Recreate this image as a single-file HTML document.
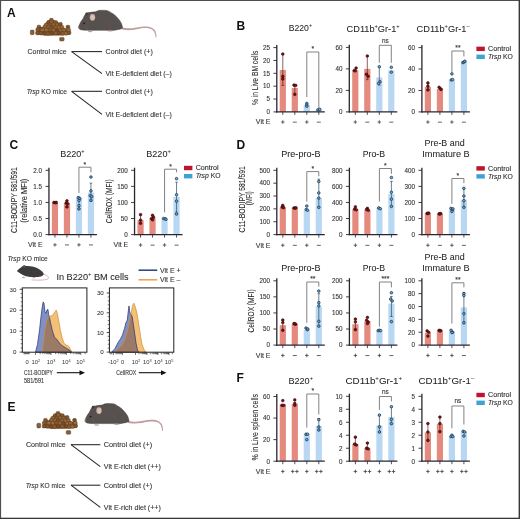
<!DOCTYPE html>
<html><head><meta charset="utf-8"><title>Figure</title>
<style>html,body{margin:0;padding:0;background:#fff;} svg{display:block;will-change:transform;} text{font-family:"Liberation Sans", sans-serif;}</style>
</head><body>
<svg width="520" height="519" viewBox="0 0 520 519" font-family="'Liberation Sans', sans-serif"><rect x="0" y="0" width="520" height="519" fill="#fff"/>
<text x="7.10" y="16.90" font-size="12" fill="#111" font-weight="bold">A</text>
<g transform="translate(0 0)"><path d="M36.5,33 C37,29 38.5,27.2 40.3,26.8 C41.5,27 42.3,27.4 43.5,26 C45,23.5 47.5,20.5 50.9,19.6 C54,19.6 57.5,21.5 60,24 C61.5,25.8 63,27.6 65,28.6 C67.5,28.4 70,29.4 70.3,32 L70,34.6 C60,36 45,35.8 36.8,34.6 Z" fill="#7d532c"/><rect x="49.55" y="18.29" width="3.7" height="3.5" rx="1.1" fill="#8a5d33" stroke="#5a3a1c" stroke-width="0.45"/><rect x="46.90" y="20.49" width="3.7" height="3.5" rx="1.1" fill="#7e532c" stroke="#5a3a1c" stroke-width="0.45"/><rect x="49.87" y="20.22" width="3.7" height="3.5" rx="1.1" fill="#916336" stroke="#5a3a1c" stroke-width="0.45"/><rect x="53.87" y="20.65" width="3.7" height="3.5" rx="1.1" fill="#85592f" stroke="#5a3a1c" stroke-width="0.45"/><rect x="44.35" y="23.22" width="3.7" height="3.5" rx="1.1" fill="#9a6c40" stroke="#5a3a1c" stroke-width="0.45"/><rect x="47.99" y="22.92" width="3.7" height="3.5" rx="1.1" fill="#85592f" stroke="#5a3a1c" stroke-width="0.45"/><rect x="51.73" y="22.76" width="3.7" height="3.5" rx="1.1" fill="#916336" stroke="#5a3a1c" stroke-width="0.45"/><rect x="55.48" y="23.12" width="3.7" height="3.5" rx="1.1" fill="#916336" stroke="#5a3a1c" stroke-width="0.45"/><rect x="58.56" y="22.42" width="3.7" height="3.5" rx="1.1" fill="#7e532c" stroke="#5a3a1c" stroke-width="0.45"/><rect x="37.04" y="25.18" width="3.7" height="3.5" rx="1.1" fill="#85592f" stroke="#5a3a1c" stroke-width="0.45"/><rect x="43.13" y="25.06" width="3.7" height="3.5" rx="1.1" fill="#916336" stroke="#5a3a1c" stroke-width="0.45"/><rect x="46.62" y="25.22" width="3.7" height="3.5" rx="1.1" fill="#916336" stroke="#5a3a1c" stroke-width="0.45"/><rect x="49.68" y="26.01" width="3.7" height="3.5" rx="1.1" fill="#7e532c" stroke="#5a3a1c" stroke-width="0.45"/><rect x="53.75" y="25.68" width="3.7" height="3.5" rx="1.1" fill="#916336" stroke="#5a3a1c" stroke-width="0.45"/><rect x="57.30" y="25.74" width="3.7" height="3.5" rx="1.1" fill="#9a6c40" stroke="#5a3a1c" stroke-width="0.45"/><rect x="59.99" y="25.41" width="3.7" height="3.5" rx="1.1" fill="#916336" stroke="#5a3a1c" stroke-width="0.45"/><rect x="66.10" y="25.31" width="3.7" height="3.5" rx="1.1" fill="#744c28" stroke="#5a3a1c" stroke-width="0.45"/><rect x="38.79" y="27.95" width="3.7" height="3.5" rx="1.1" fill="#85592f" stroke="#5a3a1c" stroke-width="0.45"/><rect x="35.83" y="28.06" width="3.7" height="3.5" rx="1.1" fill="#85592f" stroke="#5a3a1c" stroke-width="0.45"/><rect x="40.50" y="28.17" width="3.7" height="3.5" rx="1.1" fill="#9a6c40" stroke="#5a3a1c" stroke-width="0.45"/><rect x="44.51" y="28.23" width="3.7" height="3.5" rx="1.1" fill="#9a6c40" stroke="#5a3a1c" stroke-width="0.45"/><rect x="48.11" y="28.11" width="3.7" height="3.5" rx="1.1" fill="#85592f" stroke="#5a3a1c" stroke-width="0.45"/><rect x="51.91" y="28.41" width="3.7" height="3.5" rx="1.1" fill="#9a6c40" stroke="#5a3a1c" stroke-width="0.45"/><rect x="54.76" y="28.84" width="3.7" height="3.5" rx="1.1" fill="#744c28" stroke="#5a3a1c" stroke-width="0.45"/><rect x="58.65" y="28.89" width="3.7" height="3.5" rx="1.1" fill="#9a6c40" stroke="#5a3a1c" stroke-width="0.45"/><rect x="61.99" y="28.23" width="3.7" height="3.5" rx="1.1" fill="#916336" stroke="#5a3a1c" stroke-width="0.45"/><rect x="66.85" y="28.30" width="3.7" height="3.5" rx="1.1" fill="#9a6c40" stroke="#5a3a1c" stroke-width="0.45"/><rect x="35.63" y="31.30" width="3.7" height="3.5" rx="1.1" fill="#7e532c" stroke="#5a3a1c" stroke-width="0.45"/><rect x="39.15" y="31.41" width="3.7" height="3.5" rx="1.1" fill="#7e532c" stroke="#5a3a1c" stroke-width="0.45"/><rect x="43.15" y="31.75" width="3.7" height="3.5" rx="1.1" fill="#744c28" stroke="#5a3a1c" stroke-width="0.45"/><rect x="46.18" y="31.90" width="3.7" height="3.5" rx="1.1" fill="#85592f" stroke="#5a3a1c" stroke-width="0.45"/><rect x="49.92" y="31.46" width="3.7" height="3.5" rx="1.1" fill="#744c28" stroke="#5a3a1c" stroke-width="0.45"/><rect x="54.08" y="31.29" width="3.7" height="3.5" rx="1.1" fill="#8a5d33" stroke="#5a3a1c" stroke-width="0.45"/><rect x="57.39" y="31.26" width="3.7" height="3.5" rx="1.1" fill="#744c28" stroke="#5a3a1c" stroke-width="0.45"/><rect x="60.79" y="31.75" width="3.7" height="3.5" rx="1.1" fill="#8a5d33" stroke="#5a3a1c" stroke-width="0.45"/><rect x="64.27" y="31.64" width="3.7" height="3.5" rx="1.1" fill="#9a6c40" stroke="#5a3a1c" stroke-width="0.45"/><rect x="67.18" y="31.00" width="3.7" height="3.5" rx="1.1" fill="#7e532c" stroke="#5a3a1c" stroke-width="0.45"/><rect x="30.3" y="30.1" width="3.8" height="4.6" rx="1" fill="#86603a" stroke="#5a3a1c" stroke-width="0.45"/><rect x="59.6" y="37.4" width="4.5" height="3.6" rx="1" fill="#86603a" stroke="#5a3a1c" stroke-width="0.45"/></g>
<g>
<path d="M121.5,27.6 C127,28.6 130,28.4 132.1,28.2 C136,27.8 140,26.6 144.2,26.5 C147.5,26.4 150,26.8 151.6,27.7 C153.6,28.8 155,30.1 155.6,31.5 C156.3,33.5 156.6,35.5 156.4,37.6 L155.6,37.6 C155.5,35.5 155.1,33.6 154.3,31.9 C153.6,30.5 152.4,29.5 150.8,28.9 C149,28.2 147,28 144.3,28.1 C140.2,28.3 136.3,29.6 132.3,30 C129.5,30.3 126,30.2 121.5,29.6 Z" fill="#c29c9e"/>
<path d="M78.3,27.6 C79,25.5 79.8,23.6 80.6,22.2 C81.4,20.8 82.2,19.8 82.9,19 C83.8,17 84.7,15 85.8,13.8 C87,12.9 88,12.6 89,12.6 C91,12.4 93.5,11.9 95.6,11.8 C97,11 98.5,10.4 100.2,10.3 L106,10.4 C108,10.5 110,11.8 111.5,12.9 C113.5,14 115,15 116.2,16.4 C117.8,18 118.8,19.2 119.6,20.4 C120.8,22 121.6,23.6 121.9,25 C122.3,26 122.5,27 122.5,27.9 C121,29 119,29.4 117.3,29.7 C115.5,30.1 113.5,30.5 111.5,30.5 L105.8,30.3 L100,30.3 L87.5,30.3 C85,30.2 82.5,30 80.6,29.7 C79.5,29.3 78.7,28.6 78.3,27.6 Z" fill="#56514f" stroke="#403b3a" stroke-width="0.5"/>
<path d="M110,13 C115,15 119,19.5 121.2,24.5 C121,27.5 118,29.5 113,30 C116,26 115,19 110,13 Z" fill="#575252" opacity="0.8"/>
<ellipse cx="86.6" cy="13.9" rx="1.3" ry="1.4" fill="#403d3d"/>
<path d="M85.5,25.5 C86.8,27.5 87.8,29.5 88.6,31.3" stroke="#6d6363" stroke-width="0.5" fill="none"/>
<path d="M103.5,20.5 C107.5,21.5 110.5,25.5 110.8,30.2" stroke="#645b5b" stroke-width="0.5" fill="none"/>
<ellipse cx="92.5" cy="17.3" rx="2.7" ry="3.4" fill="#cdb2aa"/>
<ellipse cx="92.8" cy="17.6" rx="1.6" ry="2.3" fill="#d9c1b9"/>
<circle cx="84.1" cy="23.3" r="0.85" fill="#151515"/>
<ellipse cx="90.2" cy="31.6" rx="2.3" ry="0.75" fill="#b9a5a5"/>
<ellipse cx="110.1" cy="30.8" rx="2.8" ry="0.7" fill="#b08d8d"/>
<ellipse cx="78.7" cy="27.6" rx="0.6" ry="0.6" fill="#bfa0a0"/>
</g>
<text x="27.60" y="54.10" font-size="7.1" fill="#333" stroke="#333" stroke-width="0.1" textLength="39.00" lengthAdjust="spacingAndGlyphs">Control mice</text>
<line x1="71.60" y1="51.60" x2="102.00" y2="51.60" stroke="#222" stroke-width="1.05"/>
<line x1="71.60" y1="51.60" x2="102.00" y2="73.60" stroke="#222" stroke-width="1.05"/>
<text x="105.60" y="54.10" font-size="7.1" fill="#333" stroke="#333" stroke-width="0.1" textLength="47.20" lengthAdjust="spacingAndGlyphs">Control diet (+)</text>
<text x="105.60" y="76.10" font-size="7.1" fill="#333" stroke="#333" stroke-width="0.1" textLength="66.20" lengthAdjust="spacingAndGlyphs">Vit E-deficient diet (–)</text>
<text x="26.7" y="93.80" font-size="7.1" fill="#333" stroke="#333" stroke-width="0.1" textLength="40.2" lengthAdjust="spacingAndGlyphs"><tspan font-style="italic">Trsp</tspan> KO mice</text>
<line x1="71.60" y1="91.30" x2="102.00" y2="91.30" stroke="#222" stroke-width="1.05"/>
<line x1="71.60" y1="91.30" x2="102.00" y2="114.30" stroke="#222" stroke-width="1.05"/>
<text x="105.60" y="93.80" font-size="7.1" fill="#333" stroke="#333" stroke-width="0.1" textLength="47.20" lengthAdjust="spacingAndGlyphs">Control diet (+)</text>
<text x="105.60" y="116.80" font-size="7.1" fill="#333" stroke="#333" stroke-width="0.1" textLength="66.20" lengthAdjust="spacingAndGlyphs">Vit E-deficient diet (–)</text>
<text x="236.40" y="29.60" font-size="12" fill="#111" font-weight="bold">B</text>
<text x="288.80" y="31.30" font-size="8.7" fill="#231f20" stroke="#231f20" stroke-width="0.06" textLength="23.20" lengthAdjust="spacingAndGlyphs"><tspan>B220</tspan><tspan font-size="5.39" dy="-4.00">+</tspan></text>
<text x="346.60" y="31.60" font-size="8.7" fill="#231f20" stroke="#231f20" stroke-width="0.06" textLength="53.00" lengthAdjust="spacingAndGlyphs"><tspan>CD11b</tspan><tspan font-size="5.39" dy="-4.00">+</tspan><tspan dy="4.00">Gr-1</tspan><tspan font-size="5.39" dy="-4.00">+</tspan></text>
<text x="416.60" y="31.60" font-size="8.7" fill="#231f20" stroke="#231f20" stroke-width="0.06" textLength="53.00" lengthAdjust="spacingAndGlyphs"><tspan>CD11b</tspan><tspan font-size="5.39" dy="-4.00">+</tspan><tspan dy="4.00">Gr-1</tspan><tspan font-size="5.39" dy="-4.00">–</tspan></text>
<text x="257.80" y="77.90" font-size="8.8" fill="#2a2a2a" stroke="#2a2a2a" stroke-width="0.1" text-anchor="middle" textLength="54.30" lengthAdjust="spacingAndGlyphs" transform="rotate(-90 257.80 77.90)">% in Live BM cells</text>
<rect x="279.70" y="69.98" width="6.20" height="41.92" fill="#e48a7e"/>
<rect x="291.70" y="87.98" width="6.20" height="23.92" fill="#e48a7e"/>
<rect x="303.70" y="104.96" width="6.20" height="6.94" fill="#b8d7f2"/>
<rect x="315.70" y="109.71" width="6.20" height="2.19" fill="#b8d7f2"/>
<line x1="282.80" y1="54.03" x2="282.80" y2="85.41" stroke="#5a2020" stroke-width="0.7"/>
<line x1="281.50" y1="54.03" x2="284.10" y2="54.03" stroke="#5a2020" stroke-width="0.7"/>
<line x1="281.50" y1="85.41" x2="284.10" y2="85.41" stroke="#5a2020" stroke-width="0.7"/>
<line x1="294.80" y1="84.89" x2="294.80" y2="93.90" stroke="#5a2020" stroke-width="0.7"/>
<line x1="293.50" y1="84.89" x2="296.10" y2="84.89" stroke="#5a2020" stroke-width="0.7"/>
<line x1="293.50" y1="93.90" x2="296.10" y2="93.90" stroke="#5a2020" stroke-width="0.7"/>
<circle cx="282.80" cy="54.03" r="1.35" fill="#7a1518" stroke="#2a0506" stroke-width="0.55"/>
<circle cx="282.80" cy="76.41" r="1.35" fill="#7a1518" stroke="#2a0506" stroke-width="0.55"/>
<circle cx="282.80" cy="78.98" r="1.35" fill="#7a1518" stroke="#2a0506" stroke-width="0.55"/>
<circle cx="294.00" cy="85.15" r="1.35" fill="#7a1518" stroke="#2a0506" stroke-width="0.55"/>
<circle cx="295.70" cy="85.41" r="1.35" fill="#7a1518" stroke="#2a0506" stroke-width="0.55"/>
<circle cx="294.80" cy="94.41" r="1.35" fill="#7a1518" stroke="#2a0506" stroke-width="0.55"/>
<circle cx="306.80" cy="103.41" r="1.3" fill="#6fa6d2" stroke="#17344b" stroke-width="0.75"/>
<circle cx="306.80" cy="104.96" r="1.3" fill="#6fa6d2" stroke="#17344b" stroke-width="0.75"/>
<circle cx="306.80" cy="106.24" r="1.3" fill="#6fa6d2" stroke="#17344b" stroke-width="0.75"/>
<circle cx="317.90" cy="109.84" r="1.3" fill="#6fa6d2" stroke="#17344b" stroke-width="0.75"/>
<circle cx="319.70" cy="109.33" r="1.3" fill="#6fa6d2" stroke="#17344b" stroke-width="0.75"/>
<line x1="276.80" y1="112.50" x2="276.80" y2="45.00" stroke="#2b2530" stroke-width="1.3"/>
<line x1="276.20" y1="111.90" x2="324.80" y2="111.90" stroke="#2b2530" stroke-width="1.3"/>
<line x1="273.40" y1="111.90" x2="276.80" y2="111.90" stroke="#2b2530" stroke-width="0.9"/>
<text x="269.90" y="114.20" font-size="6.3" fill="#333" stroke="#333" stroke-width="0.1" text-anchor="end">0</text>
<line x1="273.40" y1="99.04" x2="276.80" y2="99.04" stroke="#2b2530" stroke-width="0.9"/>
<text x="269.90" y="101.34" font-size="6.3" fill="#333" stroke="#333" stroke-width="0.1" text-anchor="end">5</text>
<line x1="273.40" y1="86.18" x2="276.80" y2="86.18" stroke="#2b2530" stroke-width="0.9"/>
<text x="269.90" y="88.48" font-size="6.3" fill="#333" stroke="#333" stroke-width="0.1" text-anchor="end">10</text>
<line x1="273.40" y1="73.32" x2="276.80" y2="73.32" stroke="#2b2530" stroke-width="0.9"/>
<text x="269.90" y="75.62" font-size="6.3" fill="#333" stroke="#333" stroke-width="0.1" text-anchor="end">15</text>
<line x1="273.40" y1="60.46" x2="276.80" y2="60.46" stroke="#2b2530" stroke-width="0.9"/>
<text x="269.90" y="62.76" font-size="6.3" fill="#333" stroke="#333" stroke-width="0.1" text-anchor="end">20</text>
<line x1="273.40" y1="47.60" x2="276.80" y2="47.60" stroke="#2b2530" stroke-width="0.9"/>
<text x="269.90" y="49.90" font-size="6.3" fill="#333" stroke="#333" stroke-width="0.1" text-anchor="end">25</text>
<line x1="282.80" y1="111.90" x2="282.80" y2="114.90" stroke="#2b2530" stroke-width="0.8"/>
<line x1="294.80" y1="111.90" x2="294.80" y2="114.90" stroke="#2b2530" stroke-width="0.8"/>
<line x1="306.80" y1="111.90" x2="306.80" y2="114.90" stroke="#2b2530" stroke-width="0.8"/>
<line x1="318.80" y1="111.90" x2="318.80" y2="114.90" stroke="#2b2530" stroke-width="0.8"/>
<polyline points="306.80,97.00 306.80,52.00 318.80,52.00 318.80,108.40" fill="none" stroke="#7c7c7c" stroke-width="0.95"/>
<text x="312.80" y="51.40" font-size="6.8" fill="#333" stroke="#333" stroke-width="0.1" text-anchor="middle">*</text>
<line x1="281.05" y1="122.05" x2="284.55" y2="122.05" stroke="#3c3c3c" stroke-width="0.8"/>
<line x1="282.80" y1="120.25" x2="282.80" y2="123.85" stroke="#3c3c3c" stroke-width="0.8"/>
<line x1="292.80" y1="122.15" x2="296.80" y2="122.15" stroke="#3c3c3c" stroke-width="0.8"/>
<line x1="305.05" y1="122.05" x2="308.55" y2="122.05" stroke="#3c3c3c" stroke-width="0.8"/>
<line x1="306.80" y1="120.25" x2="306.80" y2="123.85" stroke="#3c3c3c" stroke-width="0.8"/>
<line x1="316.80" y1="122.15" x2="320.80" y2="122.15" stroke="#3c3c3c" stroke-width="0.8"/>
<text x="270.50" y="124.30" font-size="7.0" fill="#333" stroke="#333" stroke-width="0.1" text-anchor="end">Vit E</text>
<rect x="352.20" y="70.30" width="6.20" height="41.60" fill="#e48a7e"/>
<rect x="364.20" y="68.90" width="6.20" height="43.00" fill="#e48a7e"/>
<rect x="376.20" y="77.50" width="6.20" height="34.40" fill="#b8d7f2"/>
<rect x="388.20" y="70.51" width="6.20" height="41.39" fill="#b8d7f2"/>
<line x1="367.30" y1="56.00" x2="367.30" y2="79.65" stroke="#5a2020" stroke-width="0.7"/>
<line x1="366.00" y1="56.00" x2="368.60" y2="56.00" stroke="#5a2020" stroke-width="0.7"/>
<line x1="366.00" y1="79.65" x2="368.60" y2="79.65" stroke="#5a2020" stroke-width="0.7"/>
<line x1="379.30" y1="66.75" x2="379.30" y2="85.03" stroke="#2a4a62" stroke-width="0.7"/>
<line x1="378.00" y1="66.75" x2="380.60" y2="66.75" stroke="#2a4a62" stroke-width="0.7"/>
<line x1="378.00" y1="85.03" x2="380.60" y2="85.03" stroke="#2a4a62" stroke-width="0.7"/>
<circle cx="354.30" cy="70.51" r="1.35" fill="#7a1518" stroke="#2a0506" stroke-width="0.55"/>
<circle cx="356.10" cy="68.04" r="1.35" fill="#7a1518" stroke="#2a0506" stroke-width="0.55"/>
<circle cx="355.30" cy="70.84" r="1.35" fill="#7a1518" stroke="#2a0506" stroke-width="0.55"/>
<circle cx="367.30" cy="56.00" r="1.35" fill="#7a1518" stroke="#2a0506" stroke-width="0.55"/>
<circle cx="366.40" cy="74.28" r="1.35" fill="#7a1518" stroke="#2a0506" stroke-width="0.55"/>
<circle cx="368.20" cy="76.43" r="1.35" fill="#7a1518" stroke="#2a0506" stroke-width="0.55"/>
<circle cx="379.30" cy="66.75" r="1.3" fill="#6fa6d2" stroke="#17344b" stroke-width="0.75"/>
<circle cx="380.00" cy="81.80" r="1.3" fill="#6fa6d2" stroke="#17344b" stroke-width="0.75"/>
<circle cx="378.60" cy="83.41" r="1.3" fill="#6fa6d2" stroke="#17344b" stroke-width="0.75"/>
<circle cx="391.30" cy="67.29" r="1.3" fill="#6fa6d2" stroke="#17344b" stroke-width="0.75"/>
<circle cx="391.30" cy="72.12" r="1.3" fill="#6fa6d2" stroke="#17344b" stroke-width="0.75"/>
<line x1="349.30" y1="112.50" x2="349.30" y2="44.80" stroke="#2b2530" stroke-width="1.3"/>
<line x1="348.70" y1="111.90" x2="397.30" y2="111.90" stroke="#2b2530" stroke-width="1.3"/>
<line x1="345.90" y1="111.90" x2="349.30" y2="111.90" stroke="#2b2530" stroke-width="0.9"/>
<text x="342.40" y="114.20" font-size="6.3" fill="#333" stroke="#333" stroke-width="0.1" text-anchor="end">0</text>
<line x1="345.90" y1="90.40" x2="349.30" y2="90.40" stroke="#2b2530" stroke-width="0.9"/>
<text x="342.40" y="92.70" font-size="6.3" fill="#333" stroke="#333" stroke-width="0.1" text-anchor="end">20</text>
<line x1="345.90" y1="68.90" x2="349.30" y2="68.90" stroke="#2b2530" stroke-width="0.9"/>
<text x="342.40" y="71.20" font-size="6.3" fill="#333" stroke="#333" stroke-width="0.1" text-anchor="end">40</text>
<line x1="345.90" y1="47.40" x2="349.30" y2="47.40" stroke="#2b2530" stroke-width="0.9"/>
<text x="342.40" y="49.70" font-size="6.3" fill="#333" stroke="#333" stroke-width="0.1" text-anchor="end">60</text>
<line x1="355.30" y1="111.90" x2="355.30" y2="114.90" stroke="#2b2530" stroke-width="0.8"/>
<line x1="367.30" y1="111.90" x2="367.30" y2="114.90" stroke="#2b2530" stroke-width="0.8"/>
<line x1="379.30" y1="111.90" x2="379.30" y2="114.90" stroke="#2b2530" stroke-width="0.8"/>
<line x1="391.30" y1="111.90" x2="391.30" y2="114.90" stroke="#2b2530" stroke-width="0.8"/>
<polyline points="379.30,62.70 379.30,45.30 391.30,45.30 391.30,62.70" fill="none" stroke="#7c7c7c" stroke-width="0.95"/>
<text x="385.30" y="42.70" font-size="6.4" fill="#333" stroke="#333" stroke-width="0.1" text-anchor="middle">ns</text>
<line x1="353.55" y1="122.05" x2="357.05" y2="122.05" stroke="#3c3c3c" stroke-width="0.8"/>
<line x1="355.30" y1="120.25" x2="355.30" y2="123.85" stroke="#3c3c3c" stroke-width="0.8"/>
<line x1="365.30" y1="122.15" x2="369.30" y2="122.15" stroke="#3c3c3c" stroke-width="0.8"/>
<line x1="377.55" y1="122.05" x2="381.05" y2="122.05" stroke="#3c3c3c" stroke-width="0.8"/>
<line x1="379.30" y1="120.25" x2="379.30" y2="123.85" stroke="#3c3c3c" stroke-width="0.8"/>
<line x1="389.30" y1="122.15" x2="393.30" y2="122.15" stroke="#3c3c3c" stroke-width="0.8"/>
<rect x="424.80" y="86.93" width="6.20" height="24.97" fill="#e48a7e"/>
<rect x="436.80" y="88.86" width="6.20" height="23.04" fill="#e48a7e"/>
<rect x="448.80" y="79.75" width="6.20" height="32.15" fill="#b8d7f2"/>
<rect x="460.80" y="61.53" width="6.20" height="50.37" fill="#b8d7f2"/>
<line x1="427.90" y1="82.97" x2="427.90" y2="90.15" stroke="#5a2020" stroke-width="0.7"/>
<line x1="426.60" y1="82.97" x2="429.20" y2="82.97" stroke="#5a2020" stroke-width="0.7"/>
<line x1="426.60" y1="90.15" x2="429.20" y2="90.15" stroke="#5a2020" stroke-width="0.7"/>
<circle cx="427.90" cy="82.97" r="1.35" fill="#7a1518" stroke="#2a0506" stroke-width="0.55"/>
<circle cx="427.90" cy="86.18" r="1.35" fill="#7a1518" stroke="#2a0506" stroke-width="0.55"/>
<circle cx="427.90" cy="89.93" r="1.35" fill="#7a1518" stroke="#2a0506" stroke-width="0.55"/>
<circle cx="439.10" cy="87.25" r="1.35" fill="#7a1518" stroke="#2a0506" stroke-width="0.55"/>
<circle cx="440.50" cy="88.86" r="1.35" fill="#7a1518" stroke="#2a0506" stroke-width="0.55"/>
<circle cx="441.10" cy="89.40" r="1.35" fill="#7a1518" stroke="#2a0506" stroke-width="0.55"/>
<circle cx="451.90" cy="73.86" r="1.3" fill="#6fa6d2" stroke="#17344b" stroke-width="0.75"/>
<circle cx="451.30" cy="79.96" r="1.3" fill="#6fa6d2" stroke="#17344b" stroke-width="0.75"/>
<circle cx="452.60" cy="79.54" r="1.3" fill="#6fa6d2" stroke="#17344b" stroke-width="0.75"/>
<circle cx="462.90" cy="62.60" r="1.3" fill="#6fa6d2" stroke="#17344b" stroke-width="0.75"/>
<circle cx="463.90" cy="61.96" r="1.3" fill="#6fa6d2" stroke="#17344b" stroke-width="0.75"/>
<circle cx="464.90" cy="61.21" r="1.3" fill="#6fa6d2" stroke="#17344b" stroke-width="0.75"/>
<line x1="421.90" y1="112.50" x2="421.90" y2="45.00" stroke="#2b2530" stroke-width="1.3"/>
<line x1="421.30" y1="111.90" x2="469.90" y2="111.90" stroke="#2b2530" stroke-width="1.3"/>
<line x1="418.50" y1="111.90" x2="421.90" y2="111.90" stroke="#2b2530" stroke-width="0.9"/>
<text x="415.00" y="114.20" font-size="6.3" fill="#333" stroke="#333" stroke-width="0.1" text-anchor="end">0</text>
<line x1="418.50" y1="90.47" x2="421.90" y2="90.47" stroke="#2b2530" stroke-width="0.9"/>
<text x="415.00" y="92.77" font-size="6.3" fill="#333" stroke="#333" stroke-width="0.1" text-anchor="end">20</text>
<line x1="418.50" y1="69.03" x2="421.90" y2="69.03" stroke="#2b2530" stroke-width="0.9"/>
<text x="415.00" y="71.33" font-size="6.3" fill="#333" stroke="#333" stroke-width="0.1" text-anchor="end">40</text>
<line x1="418.50" y1="47.60" x2="421.90" y2="47.60" stroke="#2b2530" stroke-width="0.9"/>
<text x="415.00" y="49.90" font-size="6.3" fill="#333" stroke="#333" stroke-width="0.1" text-anchor="end">60</text>
<line x1="427.90" y1="111.90" x2="427.90" y2="114.90" stroke="#2b2530" stroke-width="0.8"/>
<line x1="439.90" y1="111.90" x2="439.90" y2="114.90" stroke="#2b2530" stroke-width="0.8"/>
<line x1="451.90" y1="111.90" x2="451.90" y2="114.90" stroke="#2b2530" stroke-width="0.8"/>
<line x1="463.90" y1="111.90" x2="463.90" y2="114.90" stroke="#2b2530" stroke-width="0.8"/>
<polyline points="451.90,72.70 451.90,51.00 463.90,51.00 463.90,56.50" fill="none" stroke="#7c7c7c" stroke-width="0.95"/>
<text x="457.90" y="50.40" font-size="6.8" fill="#333" stroke="#333" stroke-width="0.1" text-anchor="middle">**</text>
<line x1="426.15" y1="122.05" x2="429.65" y2="122.05" stroke="#3c3c3c" stroke-width="0.8"/>
<line x1="427.90" y1="120.25" x2="427.90" y2="123.85" stroke="#3c3c3c" stroke-width="0.8"/>
<line x1="437.90" y1="122.15" x2="441.90" y2="122.15" stroke="#3c3c3c" stroke-width="0.8"/>
<line x1="450.15" y1="122.05" x2="453.65" y2="122.05" stroke="#3c3c3c" stroke-width="0.8"/>
<line x1="451.90" y1="120.25" x2="451.90" y2="123.85" stroke="#3c3c3c" stroke-width="0.8"/>
<line x1="461.90" y1="122.15" x2="465.90" y2="122.15" stroke="#3c3c3c" stroke-width="0.8"/>
<rect x="476.40" y="46.65" width="8.40" height="4.40" fill="#bd1430"/>
<rect x="476.40" y="54.60" width="8.40" height="4.40" fill="#3fa2d6"/>
<text x="488.10" y="50.95" font-size="7.0" fill="#2a2a2a" stroke="#2a2a2a" stroke-width="0.1" textLength="23.00" lengthAdjust="spacingAndGlyphs">Control</text>
<text x="488.10" y="58.90" font-size="7.0" fill="#2a2a2a" stroke="#2a2a2a" stroke-width="0.1" textLength="24.8" lengthAdjust="spacingAndGlyphs"><tspan font-style="italic">Trsp</tspan> KO</text>
<text x="9.60" y="148.90" font-size="12" fill="#111" font-weight="bold">C</text>
<text x="60.20" y="156.60" font-size="8.7" fill="#231f20" stroke="#231f20" stroke-width="0.06" textLength="24.40" lengthAdjust="spacingAndGlyphs"><tspan>B220</tspan><tspan font-size="5.39" dy="-4.00">+</tspan></text>
<text x="146.30" y="156.60" font-size="8.7" fill="#231f20" stroke="#231f20" stroke-width="0.06" textLength="24.40" lengthAdjust="spacingAndGlyphs"><tspan>B220</tspan><tspan font-size="5.39" dy="-4.00">+</tspan></text>
<text x="17.20" y="200.10" font-size="8.5" fill="#2a2a2a" stroke="#2a2a2a" stroke-width="0.1" text-anchor="middle" textLength="65.70" lengthAdjust="spacingAndGlyphs" transform="rotate(-90 17.20 200.10)">C11-BODIPY 581/591</text>
<text x="27.40" y="200.75" font-size="8.5" fill="#2a2a2a" stroke="#2a2a2a" stroke-width="0.1" text-anchor="middle" textLength="44.10" lengthAdjust="spacingAndGlyphs" transform="rotate(-90 27.40 200.75)">(relative MFI)</text>
<text x="111.70" y="201.30" font-size="8.5" fill="#2a2a2a" stroke="#2a2a2a" stroke-width="0.1" text-anchor="middle" textLength="43.90" lengthAdjust="spacingAndGlyphs" transform="rotate(-90 111.70 201.30)">CellROX (MFI)</text>
<rect x="51.85" y="202.77" width="6.20" height="31.83" fill="#e48a7e"/>
<rect x="63.85" y="203.09" width="6.20" height="31.51" fill="#e48a7e"/>
<rect x="75.85" y="198.27" width="6.20" height="36.33" fill="#b8d7f2"/>
<rect x="87.85" y="192.48" width="6.20" height="42.12" fill="#b8d7f2"/>
<line x1="66.95" y1="200.52" x2="66.95" y2="207.27" stroke="#5a2020" stroke-width="0.7"/>
<line x1="65.65" y1="200.52" x2="68.25" y2="200.52" stroke="#5a2020" stroke-width="0.7"/>
<line x1="65.65" y1="207.27" x2="68.25" y2="207.27" stroke="#5a2020" stroke-width="0.7"/>
<line x1="78.95" y1="196.98" x2="78.95" y2="208.88" stroke="#2a4a62" stroke-width="0.7"/>
<line x1="77.65" y1="196.98" x2="80.25" y2="196.98" stroke="#2a4a62" stroke-width="0.7"/>
<line x1="77.65" y1="208.88" x2="80.25" y2="208.88" stroke="#2a4a62" stroke-width="0.7"/>
<line x1="90.95" y1="183.16" x2="90.95" y2="201.49" stroke="#2a4a62" stroke-width="0.7"/>
<line x1="89.65" y1="183.16" x2="92.25" y2="183.16" stroke="#2a4a62" stroke-width="0.7"/>
<line x1="89.65" y1="201.49" x2="92.25" y2="201.49" stroke="#2a4a62" stroke-width="0.7"/>
<circle cx="53.95" cy="202.45" r="1.35" fill="#7a1518" stroke="#2a0506" stroke-width="0.55"/>
<circle cx="55.45" cy="202.77" r="1.35" fill="#7a1518" stroke="#2a0506" stroke-width="0.55"/>
<circle cx="56.25" cy="202.45" r="1.35" fill="#7a1518" stroke="#2a0506" stroke-width="0.55"/>
<circle cx="66.95" cy="200.84" r="1.35" fill="#7a1518" stroke="#2a0506" stroke-width="0.55"/>
<circle cx="66.15" cy="203.09" r="1.35" fill="#7a1518" stroke="#2a0506" stroke-width="0.55"/>
<circle cx="67.75" cy="203.74" r="1.35" fill="#7a1518" stroke="#2a0506" stroke-width="0.55"/>
<circle cx="66.95" cy="206.95" r="1.35" fill="#7a1518" stroke="#2a0506" stroke-width="0.55"/>
<circle cx="78.25" cy="197.63" r="1.3" fill="#6fa6d2" stroke="#17344b" stroke-width="0.75"/>
<circle cx="79.75" cy="198.59" r="1.3" fill="#6fa6d2" stroke="#17344b" stroke-width="0.75"/>
<circle cx="78.95" cy="200.52" r="1.3" fill="#6fa6d2" stroke="#17344b" stroke-width="0.75"/>
<circle cx="78.95" cy="205.66" r="1.3" fill="#6fa6d2" stroke="#17344b" stroke-width="0.75"/>
<circle cx="78.95" cy="208.88" r="1.3" fill="#6fa6d2" stroke="#17344b" stroke-width="0.75"/>
<circle cx="90.95" cy="177.05" r="1.3" fill="#6fa6d2" stroke="#17344b" stroke-width="0.75"/>
<circle cx="90.95" cy="190.88" r="1.3" fill="#6fa6d2" stroke="#17344b" stroke-width="0.75"/>
<circle cx="90.25" cy="195.70" r="1.3" fill="#6fa6d2" stroke="#17344b" stroke-width="0.75"/>
<circle cx="91.75" cy="196.66" r="1.3" fill="#6fa6d2" stroke="#17344b" stroke-width="0.75"/>
<circle cx="90.95" cy="200.20" r="1.3" fill="#6fa6d2" stroke="#17344b" stroke-width="0.75"/>
<line x1="48.95" y1="235.20" x2="48.95" y2="167.70" stroke="#2b2530" stroke-width="1.3"/>
<line x1="48.35" y1="234.60" x2="96.95" y2="234.60" stroke="#2b2530" stroke-width="1.3"/>
<line x1="45.55" y1="234.60" x2="48.95" y2="234.60" stroke="#2b2530" stroke-width="0.9"/>
<text x="42.05" y="236.90" font-size="6.3" fill="#333" stroke="#333" stroke-width="0.1" text-anchor="end">0.0</text>
<line x1="45.55" y1="218.53" x2="48.95" y2="218.53" stroke="#2b2530" stroke-width="0.9"/>
<text x="42.05" y="220.83" font-size="6.3" fill="#333" stroke="#333" stroke-width="0.1" text-anchor="end">0.5</text>
<line x1="45.55" y1="202.45" x2="48.95" y2="202.45" stroke="#2b2530" stroke-width="0.9"/>
<text x="42.05" y="204.75" font-size="6.3" fill="#333" stroke="#333" stroke-width="0.1" text-anchor="end">1.0</text>
<line x1="45.55" y1="186.38" x2="48.95" y2="186.38" stroke="#2b2530" stroke-width="0.9"/>
<text x="42.05" y="188.68" font-size="6.3" fill="#333" stroke="#333" stroke-width="0.1" text-anchor="end">1.5</text>
<line x1="45.55" y1="170.30" x2="48.95" y2="170.30" stroke="#2b2530" stroke-width="0.9"/>
<text x="42.05" y="172.60" font-size="6.3" fill="#333" stroke="#333" stroke-width="0.1" text-anchor="end">2.0</text>
<line x1="54.95" y1="234.60" x2="54.95" y2="237.60" stroke="#2b2530" stroke-width="0.8"/>
<line x1="66.95" y1="234.60" x2="66.95" y2="237.60" stroke="#2b2530" stroke-width="0.8"/>
<line x1="78.95" y1="234.60" x2="78.95" y2="237.60" stroke="#2b2530" stroke-width="0.8"/>
<line x1="90.95" y1="234.60" x2="90.95" y2="237.60" stroke="#2b2530" stroke-width="0.8"/>
<polyline points="78.95,193.10 78.95,167.20 90.95,167.20 90.95,172.30" fill="none" stroke="#7c7c7c" stroke-width="0.95"/>
<text x="84.95" y="166.60" font-size="6.8" fill="#333" stroke="#333" stroke-width="0.1" text-anchor="middle">*</text>
<line x1="53.20" y1="244.85" x2="56.70" y2="244.85" stroke="#3c3c3c" stroke-width="0.8"/>
<line x1="54.95" y1="243.05" x2="54.95" y2="246.65" stroke="#3c3c3c" stroke-width="0.8"/>
<line x1="64.95" y1="244.95" x2="68.95" y2="244.95" stroke="#3c3c3c" stroke-width="0.8"/>
<line x1="77.20" y1="244.85" x2="80.70" y2="244.85" stroke="#3c3c3c" stroke-width="0.8"/>
<line x1="78.95" y1="243.05" x2="78.95" y2="246.65" stroke="#3c3c3c" stroke-width="0.8"/>
<line x1="88.95" y1="244.95" x2="92.95" y2="244.95" stroke="#3c3c3c" stroke-width="0.8"/>
<text x="42.65" y="247.10" font-size="7.0" fill="#333" stroke="#333" stroke-width="0.1" text-anchor="end">Vit E</text>
<rect x="137.45" y="220.13" width="6.20" height="14.47" fill="#e48a7e"/>
<rect x="149.45" y="218.20" width="6.20" height="16.40" fill="#e48a7e"/>
<rect x="161.45" y="218.85" width="6.20" height="15.75" fill="#b8d7f2"/>
<rect x="173.45" y="196.98" width="6.20" height="37.62" fill="#b8d7f2"/>
<line x1="140.55" y1="214.67" x2="140.55" y2="223.35" stroke="#5a2020" stroke-width="0.7"/>
<line x1="139.25" y1="214.67" x2="141.85" y2="214.67" stroke="#5a2020" stroke-width="0.7"/>
<line x1="139.25" y1="223.35" x2="141.85" y2="223.35" stroke="#5a2020" stroke-width="0.7"/>
<line x1="152.55" y1="215.31" x2="152.55" y2="220.13" stroke="#5a2020" stroke-width="0.7"/>
<line x1="151.25" y1="215.31" x2="153.85" y2="215.31" stroke="#5a2020" stroke-width="0.7"/>
<line x1="151.25" y1="220.13" x2="153.85" y2="220.13" stroke="#5a2020" stroke-width="0.7"/>
<line x1="176.55" y1="182.20" x2="176.55" y2="212.09" stroke="#2a4a62" stroke-width="0.7"/>
<line x1="175.25" y1="182.20" x2="177.85" y2="182.20" stroke="#2a4a62" stroke-width="0.7"/>
<line x1="175.25" y1="212.09" x2="177.85" y2="212.09" stroke="#2a4a62" stroke-width="0.7"/>
<circle cx="140.55" cy="214.67" r="1.35" fill="#7a1518" stroke="#2a0506" stroke-width="0.55"/>
<circle cx="140.55" cy="220.13" r="1.35" fill="#7a1518" stroke="#2a0506" stroke-width="0.55"/>
<circle cx="140.55" cy="223.35" r="1.35" fill="#7a1518" stroke="#2a0506" stroke-width="0.55"/>
<circle cx="152.55" cy="215.31" r="1.35" fill="#7a1518" stroke="#2a0506" stroke-width="0.55"/>
<circle cx="153.55" cy="217.24" r="1.35" fill="#7a1518" stroke="#2a0506" stroke-width="0.55"/>
<circle cx="151.55" cy="218.53" r="1.35" fill="#7a1518" stroke="#2a0506" stroke-width="0.55"/>
<circle cx="152.55" cy="219.81" r="1.35" fill="#7a1518" stroke="#2a0506" stroke-width="0.55"/>
<circle cx="163.55" cy="218.53" r="1.3" fill="#6fa6d2" stroke="#17344b" stroke-width="0.75"/>
<circle cx="165.15" cy="218.85" r="1.3" fill="#6fa6d2" stroke="#17344b" stroke-width="0.75"/>
<circle cx="165.95" cy="219.33" r="1.3" fill="#6fa6d2" stroke="#17344b" stroke-width="0.75"/>
<circle cx="176.55" cy="178.66" r="1.3" fill="#6fa6d2" stroke="#17344b" stroke-width="0.75"/>
<circle cx="176.55" cy="194.73" r="1.3" fill="#6fa6d2" stroke="#17344b" stroke-width="0.75"/>
<circle cx="176.55" cy="201.16" r="1.3" fill="#6fa6d2" stroke="#17344b" stroke-width="0.75"/>
<circle cx="176.55" cy="214.02" r="1.3" fill="#6fa6d2" stroke="#17344b" stroke-width="0.75"/>
<line x1="134.55" y1="235.20" x2="134.55" y2="167.70" stroke="#2b2530" stroke-width="1.3"/>
<line x1="133.95" y1="234.60" x2="182.55" y2="234.60" stroke="#2b2530" stroke-width="1.3"/>
<line x1="131.15" y1="234.60" x2="134.55" y2="234.60" stroke="#2b2530" stroke-width="0.9"/>
<text x="127.65" y="236.90" font-size="6.3" fill="#333" stroke="#333" stroke-width="0.1" text-anchor="end">0</text>
<line x1="131.15" y1="218.53" x2="134.55" y2="218.53" stroke="#2b2530" stroke-width="0.9"/>
<text x="127.65" y="220.83" font-size="6.3" fill="#333" stroke="#333" stroke-width="0.1" text-anchor="end">50</text>
<line x1="131.15" y1="202.45" x2="134.55" y2="202.45" stroke="#2b2530" stroke-width="0.9"/>
<text x="127.65" y="204.75" font-size="6.3" fill="#333" stroke="#333" stroke-width="0.1" text-anchor="end">100</text>
<line x1="131.15" y1="186.38" x2="134.55" y2="186.38" stroke="#2b2530" stroke-width="0.9"/>
<text x="127.65" y="188.68" font-size="6.3" fill="#333" stroke="#333" stroke-width="0.1" text-anchor="end">150</text>
<line x1="131.15" y1="170.30" x2="134.55" y2="170.30" stroke="#2b2530" stroke-width="0.9"/>
<text x="127.65" y="172.60" font-size="6.3" fill="#333" stroke="#333" stroke-width="0.1" text-anchor="end">200</text>
<line x1="140.55" y1="234.60" x2="140.55" y2="237.60" stroke="#2b2530" stroke-width="0.8"/>
<line x1="152.55" y1="234.60" x2="152.55" y2="237.60" stroke="#2b2530" stroke-width="0.8"/>
<line x1="164.55" y1="234.60" x2="164.55" y2="237.60" stroke="#2b2530" stroke-width="0.8"/>
<line x1="176.55" y1="234.60" x2="176.55" y2="237.60" stroke="#2b2530" stroke-width="0.8"/>
<polyline points="164.55,212.40 164.55,169.20 176.55,169.20 176.55,172.30" fill="none" stroke="#7c7c7c" stroke-width="0.95"/>
<text x="170.55" y="168.60" font-size="6.8" fill="#333" stroke="#333" stroke-width="0.1" text-anchor="middle">*</text>
<line x1="138.80" y1="245.05" x2="142.30" y2="245.05" stroke="#3c3c3c" stroke-width="0.8"/>
<line x1="140.55" y1="243.25" x2="140.55" y2="246.85" stroke="#3c3c3c" stroke-width="0.8"/>
<line x1="150.55" y1="245.15" x2="154.55" y2="245.15" stroke="#3c3c3c" stroke-width="0.8"/>
<line x1="162.80" y1="245.05" x2="166.30" y2="245.05" stroke="#3c3c3c" stroke-width="0.8"/>
<line x1="164.55" y1="243.25" x2="164.55" y2="246.85" stroke="#3c3c3c" stroke-width="0.8"/>
<line x1="174.55" y1="245.15" x2="178.55" y2="245.15" stroke="#3c3c3c" stroke-width="0.8"/>
<text x="128.25" y="247.30" font-size="7.0" fill="#333" stroke="#333" stroke-width="0.1" text-anchor="end">Vit E</text>
<rect x="184.00" y="165.80" width="8.40" height="4.40" fill="#bd1430"/>
<rect x="184.00" y="174.00" width="8.40" height="4.40" fill="#3fa2d6"/>
<text x="195.70" y="170.10" font-size="7.0" fill="#2a2a2a" stroke="#2a2a2a" stroke-width="0.1" textLength="23.00" lengthAdjust="spacingAndGlyphs">Control</text>
<text x="195.70" y="178.30" font-size="7.0" fill="#2a2a2a" stroke="#2a2a2a" stroke-width="0.1" textLength="24.8" lengthAdjust="spacingAndGlyphs"><tspan font-style="italic">Trsp</tspan> KO</text>
<clipPath id="bc1"><polygon points="35.5,352.2 37.5,344.4 39.6,329.5 40.9,317.4 42.3,306.6 43.2,301.9 44.0,303.2 45.0,312.0 46.0,313.3 47.0,310.0 47.9,309.3 48.7,314.7 49.7,318.7 50.8,324.1 52.4,330.9 54.4,337.0 56.4,339.0 58.5,341.7 60.5,344.4 63.2,346.4 66.6,348.4 70.0,350.5 72.0,352.2"/></clipPath>
<polygon points="35.5,352.2 37.5,344.4 39.6,329.5 40.9,317.4 42.3,306.6 43.2,301.9 44.0,303.2 45.0,312.0 46.0,313.3 47.0,310.0 47.9,309.3 48.7,314.7 49.7,318.7 50.8,324.1 52.4,330.9 54.4,337.0 56.4,339.0 58.5,341.7 60.5,344.4 63.2,346.4 66.6,348.4 70.0,350.5 72.0,352.2" fill="#8190c4"/>
<polygon points="42.3,352.2 43.6,341.7 45.0,329.5 47.0,320.0 49.0,316.7 50.4,316.0 52.4,315.4 54.4,312.7 56.2,310.0 57.5,314.0 59.1,322.8 60.5,330.9 62.1,337.6 63.9,343.0 65.9,345.0 67.9,345.5 69.3,347.0 70.6,349.8 72.0,352.2" fill="#f4bf76"/>
<polygon points="42.3,352.2 43.6,341.7 45.0,329.5 47.0,320.0 49.0,316.7 50.4,316.0 52.4,315.4 54.4,312.7 56.2,310.0 57.5,314.0 59.1,322.8 60.5,330.9 62.1,337.6 63.9,343.0 65.9,345.0 67.9,345.5 69.3,347.0 70.6,349.8 72.0,352.2" fill="#9c7a68" clip-path="url(#bc1)"/>
<polygon points="35.5,352.2 37.5,344.4 39.6,329.5 40.9,317.4 42.3,306.6 43.2,301.9 44.0,303.2 45.0,312.0 46.0,313.3 47.0,310.0 47.9,309.3 48.7,314.7 49.7,318.7 50.8,324.1 52.4,330.9 54.4,337.0 56.4,339.0 58.5,341.7 60.5,344.4 63.2,346.4 66.6,348.4 70.0,350.5 72.0,352.2" fill="none" stroke="#2b3a75" stroke-width="0.75" stroke-linejoin="round"/>
<polygon points="42.3,352.2 43.6,341.7 45.0,329.5 47.0,320.0 49.0,316.7 50.4,316.0 52.4,315.4 54.4,312.7 56.2,310.0 57.5,314.0 59.1,322.8 60.5,330.9 62.1,337.6 63.9,343.0 65.9,345.0 67.9,345.5 69.3,347.0 70.6,349.8 72.0,352.2" fill="none" stroke="#c8872e" stroke-width="0.75" stroke-linejoin="round" stroke-opacity="0.85"/>
<clipPath id="bc2"><polygon points="111.7,352.2 115.1,348.4 118.5,341.7 120.5,339.0 122.5,334.9 124.6,328.2 125.9,322.8 127.3,320.1 128.2,312.0 129.0,305.9 129.7,312.0 130.6,314.0 132.0,316.0 133.3,324.1 134.7,333.6 136.0,343.0 137.4,349.8 138.7,352.2"/></clipPath>
<polygon points="111.7,352.2 115.1,348.4 118.5,341.7 120.5,339.0 122.5,334.9 124.6,328.2 125.9,322.8 127.3,320.1 128.2,312.0 129.0,305.9 129.7,312.0 130.6,314.0 132.0,316.0 133.3,324.1 134.7,333.6 136.0,343.0 137.4,349.8 138.7,352.2" fill="#8190c4"/>
<polygon points="115.1,352.2 118.5,348.4 122.5,344.4 125.2,339.0 127.9,329.5 130.0,320.1 131.3,312.0 132.7,305.2 134.0,303.2 135.4,307.3 136.7,312.0 138.1,320.1 139.4,328.2 140.8,337.6 142.1,344.4 144.1,349.8 146.2,352.2" fill="#f4bf76"/>
<polygon points="115.1,352.2 118.5,348.4 122.5,344.4 125.2,339.0 127.9,329.5 130.0,320.1 131.3,312.0 132.7,305.2 134.0,303.2 135.4,307.3 136.7,312.0 138.1,320.1 139.4,328.2 140.8,337.6 142.1,344.4 144.1,349.8 146.2,352.2" fill="#9c7a68" clip-path="url(#bc2)"/>
<polygon points="111.7,352.2 115.1,348.4 118.5,341.7 120.5,339.0 122.5,334.9 124.6,328.2 125.9,322.8 127.3,320.1 128.2,312.0 129.0,305.9 129.7,312.0 130.6,314.0 132.0,316.0 133.3,324.1 134.7,333.6 136.0,343.0 137.4,349.8 138.7,352.2" fill="none" stroke="#2b3a75" stroke-width="0.75" stroke-linejoin="round"/>
<polygon points="115.1,352.2 118.5,348.4 122.5,344.4 125.2,339.0 127.9,329.5 130.0,320.1 131.3,312.0 132.7,305.2 134.0,303.2 135.4,307.3 136.7,312.0 138.1,320.1 139.4,328.2 140.8,337.6 142.1,344.4 144.1,349.8 146.2,352.2" fill="none" stroke="#c8872e" stroke-width="0.75" stroke-linejoin="round" stroke-opacity="0.85"/>
<rect x="22.3" y="287.9" width="64.6" height="64.3" fill="none" stroke="#231f20" stroke-width="1"/>
<rect x="109.4" y="287.9" width="64.4" height="64.3" fill="none" stroke="#231f20" stroke-width="1"/>
<line x1="19.60" y1="289.30" x2="22.30" y2="289.30" stroke="#231f20" stroke-width="0.8"/>
<text x="16.50" y="291.50" font-size="6.2" fill="#333" stroke="#333" stroke-width="0.05" text-anchor="end">30</text>
<line x1="19.60" y1="310.20" x2="22.30" y2="310.20" stroke="#231f20" stroke-width="0.8"/>
<text x="16.50" y="312.40" font-size="6.2" fill="#333" stroke="#333" stroke-width="0.05" text-anchor="end">20</text>
<line x1="19.60" y1="331.20" x2="22.30" y2="331.20" stroke="#231f20" stroke-width="0.8"/>
<text x="16.50" y="333.40" font-size="6.2" fill="#333" stroke="#333" stroke-width="0.05" text-anchor="end">10</text>
<line x1="19.60" y1="352.10" x2="22.30" y2="352.10" stroke="#231f20" stroke-width="0.8"/>
<text x="16.50" y="354.30" font-size="6.2" fill="#333" stroke="#333" stroke-width="0.05" text-anchor="end">0</text>
<line x1="106.70" y1="293.00" x2="109.40" y2="293.00" stroke="#231f20" stroke-width="0.8"/>
<text x="103.80" y="295.20" font-size="6.2" fill="#333" stroke="#333" stroke-width="0.05" text-anchor="end">30</text>
<line x1="106.70" y1="312.80" x2="109.40" y2="312.80" stroke="#231f20" stroke-width="0.8"/>
<text x="103.80" y="315.00" font-size="6.2" fill="#333" stroke="#333" stroke-width="0.05" text-anchor="end">20</text>
<line x1="106.70" y1="332.50" x2="109.40" y2="332.50" stroke="#231f20" stroke-width="0.8"/>
<text x="103.80" y="334.70" font-size="6.2" fill="#333" stroke="#333" stroke-width="0.05" text-anchor="end">10</text>
<line x1="106.70" y1="352.10" x2="109.40" y2="352.10" stroke="#231f20" stroke-width="0.8"/>
<text x="103.80" y="354.30" font-size="6.2" fill="#333" stroke="#333" stroke-width="0.05" text-anchor="end">0</text>
<line x1="20.60" y1="347.91" x2="22.30" y2="347.91" stroke="#231f20" stroke-width="0.6"/>
<line x1="20.60" y1="343.73" x2="22.30" y2="343.73" stroke="#231f20" stroke-width="0.6"/>
<line x1="20.60" y1="339.54" x2="22.30" y2="339.54" stroke="#231f20" stroke-width="0.6"/>
<line x1="20.60" y1="335.35" x2="22.30" y2="335.35" stroke="#231f20" stroke-width="0.6"/>
<line x1="20.60" y1="326.98" x2="22.30" y2="326.98" stroke="#231f20" stroke-width="0.6"/>
<line x1="20.60" y1="322.79" x2="22.30" y2="322.79" stroke="#231f20" stroke-width="0.6"/>
<line x1="20.60" y1="318.61" x2="22.30" y2="318.61" stroke="#231f20" stroke-width="0.6"/>
<line x1="20.60" y1="314.42" x2="22.30" y2="314.42" stroke="#231f20" stroke-width="0.6"/>
<line x1="20.60" y1="306.05" x2="22.30" y2="306.05" stroke="#231f20" stroke-width="0.6"/>
<line x1="20.60" y1="301.86" x2="22.30" y2="301.86" stroke="#231f20" stroke-width="0.6"/>
<line x1="20.60" y1="297.67" x2="22.30" y2="297.67" stroke="#231f20" stroke-width="0.6"/>
<line x1="20.60" y1="293.49" x2="22.30" y2="293.49" stroke="#231f20" stroke-width="0.6"/>
<g fill="#333" font-size="5.6">
</g>
<text x="27.00" y="363.80" font-size="5.8" fill="#333" text-anchor="middle">0</text>
<text x="35.80" y="363.80" font-size="5.8" fill="#333" text-anchor="middle">10<tspan font-size="3.8" dy="-2.3">2</tspan></text>
<text x="51.00" y="363.80" font-size="5.8" fill="#333" text-anchor="middle">10<tspan font-size="3.8" dy="-2.3">3</tspan></text>
<text x="66.40" y="363.80" font-size="5.8" fill="#333" text-anchor="middle">10<tspan font-size="3.8" dy="-2.3">4</tspan></text>
<text x="80.60" y="363.80" font-size="5.8" fill="#333" text-anchor="middle">10<tspan font-size="3.8" dy="-2.3">5</tspan></text>
<text x="113.40" y="363.80" font-size="5.8" fill="#333" text-anchor="middle">-10<tspan font-size="3.8" dy="-2.3">2</tspan></text>
<text x="122.50" y="363.80" font-size="5.8" fill="#333" text-anchor="middle">0</text>
<text x="136.00" y="363.80" font-size="5.8" fill="#333" text-anchor="middle">10<tspan font-size="3.8" dy="-2.3">2</tspan></text>
<text x="147.40" y="363.80" font-size="5.8" fill="#333" text-anchor="middle">10<tspan font-size="3.8" dy="-2.3">3</tspan></text>
<text x="158.40" y="363.80" font-size="5.8" fill="#333" text-anchor="middle">10<tspan font-size="3.8" dy="-2.3">4</tspan></text>
<text x="169.00" y="363.80" font-size="5.8" fill="#333" text-anchor="middle">10<tspan font-size="3.8" dy="-2.3">5</tspan></text>
<line x1="24.00" y1="352.60" x2="24.00" y2="354.20" stroke="#231f20" stroke-width="0.6"/>
<line x1="24.75" y1="352.60" x2="24.75" y2="354.20" stroke="#231f20" stroke-width="0.6"/>
<line x1="25.50" y1="352.60" x2="25.50" y2="354.20" stroke="#231f20" stroke-width="0.6"/>
<line x1="26.25" y1="352.60" x2="26.25" y2="354.20" stroke="#231f20" stroke-width="0.6"/>
<line x1="27.00" y1="352.60" x2="27.00" y2="354.20" stroke="#231f20" stroke-width="0.6"/>
<line x1="27.75" y1="352.60" x2="27.75" y2="354.20" stroke="#231f20" stroke-width="0.6"/>
<line x1="28.50" y1="352.60" x2="28.50" y2="354.20" stroke="#231f20" stroke-width="0.6"/>
<line x1="29.25" y1="352.60" x2="29.25" y2="354.20" stroke="#231f20" stroke-width="0.6"/>
<line x1="35.50" y1="352.60" x2="35.50" y2="355.00" stroke="#231f20" stroke-width="0.6"/>
<line x1="40.17" y1="352.60" x2="40.17" y2="354.20" stroke="#231f20" stroke-width="0.6"/>
<line x1="42.90" y1="352.60" x2="42.90" y2="354.20" stroke="#231f20" stroke-width="0.6"/>
<line x1="44.83" y1="352.60" x2="44.83" y2="354.20" stroke="#231f20" stroke-width="0.6"/>
<line x1="46.33" y1="352.60" x2="46.33" y2="354.20" stroke="#231f20" stroke-width="0.6"/>
<line x1="47.56" y1="352.60" x2="47.56" y2="354.20" stroke="#231f20" stroke-width="0.6"/>
<line x1="48.60" y1="352.60" x2="48.60" y2="354.20" stroke="#231f20" stroke-width="0.6"/>
<line x1="49.50" y1="352.60" x2="49.50" y2="354.20" stroke="#231f20" stroke-width="0.6"/>
<line x1="50.29" y1="352.60" x2="50.29" y2="354.20" stroke="#231f20" stroke-width="0.6"/>
<line x1="51.00" y1="352.60" x2="51.00" y2="355.00" stroke="#231f20" stroke-width="0.6"/>
<line x1="55.64" y1="352.60" x2="55.64" y2="354.20" stroke="#231f20" stroke-width="0.6"/>
<line x1="58.35" y1="352.60" x2="58.35" y2="354.20" stroke="#231f20" stroke-width="0.6"/>
<line x1="60.27" y1="352.60" x2="60.27" y2="354.20" stroke="#231f20" stroke-width="0.6"/>
<line x1="61.76" y1="352.60" x2="61.76" y2="354.20" stroke="#231f20" stroke-width="0.6"/>
<line x1="62.98" y1="352.60" x2="62.98" y2="354.20" stroke="#231f20" stroke-width="0.6"/>
<line x1="64.01" y1="352.60" x2="64.01" y2="354.20" stroke="#231f20" stroke-width="0.6"/>
<line x1="64.91" y1="352.60" x2="64.91" y2="354.20" stroke="#231f20" stroke-width="0.6"/>
<line x1="65.70" y1="352.60" x2="65.70" y2="354.20" stroke="#231f20" stroke-width="0.6"/>
<line x1="66.40" y1="352.60" x2="66.40" y2="355.00" stroke="#231f20" stroke-width="0.6"/>
<line x1="70.73" y1="352.60" x2="70.73" y2="354.20" stroke="#231f20" stroke-width="0.6"/>
<line x1="73.27" y1="352.60" x2="73.27" y2="354.20" stroke="#231f20" stroke-width="0.6"/>
<line x1="75.07" y1="352.60" x2="75.07" y2="354.20" stroke="#231f20" stroke-width="0.6"/>
<line x1="76.47" y1="352.60" x2="76.47" y2="354.20" stroke="#231f20" stroke-width="0.6"/>
<line x1="77.61" y1="352.60" x2="77.61" y2="354.20" stroke="#231f20" stroke-width="0.6"/>
<line x1="78.57" y1="352.60" x2="78.57" y2="354.20" stroke="#231f20" stroke-width="0.6"/>
<line x1="79.40" y1="352.60" x2="79.40" y2="354.20" stroke="#231f20" stroke-width="0.6"/>
<line x1="80.14" y1="352.60" x2="80.14" y2="354.20" stroke="#231f20" stroke-width="0.6"/>
<line x1="80.80" y1="352.60" x2="80.80" y2="355.00" stroke="#231f20" stroke-width="0.6"/>
<line x1="85.07" y1="352.60" x2="85.07" y2="354.20" stroke="#231f20" stroke-width="0.6"/>
<line x1="110.00" y1="352.60" x2="110.00" y2="354.20" stroke="#231f20" stroke-width="0.6"/>
<line x1="110.90" y1="352.60" x2="110.90" y2="354.20" stroke="#231f20" stroke-width="0.6"/>
<line x1="111.80" y1="352.60" x2="111.80" y2="354.20" stroke="#231f20" stroke-width="0.6"/>
<line x1="113.40" y1="352.60" x2="113.40" y2="355.00" stroke="#231f20" stroke-width="0.6"/>
<line x1="122.50" y1="352.60" x2="122.50" y2="355.00" stroke="#231f20" stroke-width="0.6"/>
<line x1="116.00" y1="352.60" x2="116.00" y2="354.20" stroke="#231f20" stroke-width="0.6"/>
<line x1="117.10" y1="352.60" x2="117.10" y2="354.20" stroke="#231f20" stroke-width="0.6"/>
<line x1="118.20" y1="352.60" x2="118.20" y2="354.20" stroke="#231f20" stroke-width="0.6"/>
<line x1="119.30" y1="352.60" x2="119.30" y2="354.20" stroke="#231f20" stroke-width="0.6"/>
<line x1="120.40" y1="352.60" x2="120.40" y2="354.20" stroke="#231f20" stroke-width="0.6"/>
<line x1="121.50" y1="352.60" x2="121.50" y2="354.20" stroke="#231f20" stroke-width="0.6"/>
<line x1="135.50" y1="352.60" x2="135.50" y2="355.00" stroke="#231f20" stroke-width="0.6"/>
<line x1="138.96" y1="352.60" x2="138.96" y2="354.20" stroke="#231f20" stroke-width="0.6"/>
<line x1="140.99" y1="352.60" x2="140.99" y2="354.20" stroke="#231f20" stroke-width="0.6"/>
<line x1="142.42" y1="352.60" x2="142.42" y2="354.20" stroke="#231f20" stroke-width="0.6"/>
<line x1="143.54" y1="352.60" x2="143.54" y2="354.20" stroke="#231f20" stroke-width="0.6"/>
<line x1="144.45" y1="352.60" x2="144.45" y2="354.20" stroke="#231f20" stroke-width="0.6"/>
<line x1="145.22" y1="352.60" x2="145.22" y2="354.20" stroke="#231f20" stroke-width="0.6"/>
<line x1="145.89" y1="352.60" x2="145.89" y2="354.20" stroke="#231f20" stroke-width="0.6"/>
<line x1="146.47" y1="352.60" x2="146.47" y2="354.20" stroke="#231f20" stroke-width="0.6"/>
<line x1="147.00" y1="352.60" x2="147.00" y2="355.00" stroke="#231f20" stroke-width="0.6"/>
<line x1="150.31" y1="352.60" x2="150.31" y2="354.20" stroke="#231f20" stroke-width="0.6"/>
<line x1="152.25" y1="352.60" x2="152.25" y2="354.20" stroke="#231f20" stroke-width="0.6"/>
<line x1="153.62" y1="352.60" x2="153.62" y2="354.20" stroke="#231f20" stroke-width="0.6"/>
<line x1="154.69" y1="352.60" x2="154.69" y2="354.20" stroke="#231f20" stroke-width="0.6"/>
<line x1="155.56" y1="352.60" x2="155.56" y2="354.20" stroke="#231f20" stroke-width="0.6"/>
<line x1="156.30" y1="352.60" x2="156.30" y2="354.20" stroke="#231f20" stroke-width="0.6"/>
<line x1="156.93" y1="352.60" x2="156.93" y2="354.20" stroke="#231f20" stroke-width="0.6"/>
<line x1="157.50" y1="352.60" x2="157.50" y2="354.20" stroke="#231f20" stroke-width="0.6"/>
<line x1="158.00" y1="352.60" x2="158.00" y2="355.00" stroke="#231f20" stroke-width="0.6"/>
<line x1="161.31" y1="352.60" x2="161.31" y2="354.20" stroke="#231f20" stroke-width="0.6"/>
<line x1="163.25" y1="352.60" x2="163.25" y2="354.20" stroke="#231f20" stroke-width="0.6"/>
<line x1="164.62" y1="352.60" x2="164.62" y2="354.20" stroke="#231f20" stroke-width="0.6"/>
<line x1="165.69" y1="352.60" x2="165.69" y2="354.20" stroke="#231f20" stroke-width="0.6"/>
<line x1="166.56" y1="352.60" x2="166.56" y2="354.20" stroke="#231f20" stroke-width="0.6"/>
<line x1="167.30" y1="352.60" x2="167.30" y2="354.20" stroke="#231f20" stroke-width="0.6"/>
<line x1="167.93" y1="352.60" x2="167.93" y2="354.20" stroke="#231f20" stroke-width="0.6"/>
<line x1="168.50" y1="352.60" x2="168.50" y2="354.20" stroke="#231f20" stroke-width="0.6"/>
<line x1="169.00" y1="352.60" x2="169.00" y2="355.00" stroke="#231f20" stroke-width="0.6"/>
<line x1="172.31" y1="352.60" x2="172.31" y2="354.20" stroke="#231f20" stroke-width="0.6"/>
<line x1="107.70" y1="348.16" x2="109.40" y2="348.16" stroke="#231f20" stroke-width="0.6"/>
<line x1="107.70" y1="344.22" x2="109.40" y2="344.22" stroke="#231f20" stroke-width="0.6"/>
<line x1="107.70" y1="340.28" x2="109.40" y2="340.28" stroke="#231f20" stroke-width="0.6"/>
<line x1="107.70" y1="336.34" x2="109.40" y2="336.34" stroke="#231f20" stroke-width="0.6"/>
<line x1="107.70" y1="328.46" x2="109.40" y2="328.46" stroke="#231f20" stroke-width="0.6"/>
<line x1="107.70" y1="324.52" x2="109.40" y2="324.52" stroke="#231f20" stroke-width="0.6"/>
<line x1="107.70" y1="320.58" x2="109.40" y2="320.58" stroke="#231f20" stroke-width="0.6"/>
<line x1="107.70" y1="316.64" x2="109.40" y2="316.64" stroke="#231f20" stroke-width="0.6"/>
<line x1="107.70" y1="308.76" x2="109.40" y2="308.76" stroke="#231f20" stroke-width="0.6"/>
<line x1="107.70" y1="304.82" x2="109.40" y2="304.82" stroke="#231f20" stroke-width="0.6"/>
<line x1="107.70" y1="300.88" x2="109.40" y2="300.88" stroke="#231f20" stroke-width="0.6"/>
<line x1="107.70" y1="296.94" x2="109.40" y2="296.94" stroke="#231f20" stroke-width="0.6"/>
<text x="24.00" y="374.60" font-size="6.4" fill="#333" stroke="#333" stroke-width="0.1" textLength="28.90" lengthAdjust="spacingAndGlyphs">C11-BODIPY</text>
<text x="24.00" y="382.60" font-size="6.4" fill="#333" stroke="#333" stroke-width="0.1" textLength="20.20" lengthAdjust="spacingAndGlyphs">581/591</text>
<line x1="56.80" y1="372.70" x2="82.00" y2="372.70" stroke="#111" stroke-width="1.1"/>
<polygon points="85,372.7 79.5,370.2 79.5,375.2" fill="#111"/>
<text x="116.30" y="374.60" font-size="6.4" fill="#333" stroke="#333" stroke-width="0.1" textLength="20.00" lengthAdjust="spacingAndGlyphs">CellROX</text>
<line x1="138.80" y1="372.70" x2="163.50" y2="372.70" stroke="#111" stroke-width="1.1"/>
<polygon points="166.5,372.7 161,370.2 161,375.2" fill="#111"/>
<line x1="138.50" y1="270.20" x2="157.20" y2="270.20" stroke="#27407a" stroke-width="1.5"/>
<line x1="138.50" y1="279.80" x2="157.20" y2="279.80" stroke="#f0a040" stroke-width="1.5"/>
<text x="160.00" y="272.60" font-size="6.9" fill="#333" stroke="#333" stroke-width="0.1" textLength="20.50" lengthAdjust="spacingAndGlyphs">Vit E +</text>
<text x="160.00" y="282.40" font-size="6.9" fill="#333" stroke="#333" stroke-width="0.1" textLength="20.50" lengthAdjust="spacingAndGlyphs">Vit E –</text>
<text x="7.5" y="260.8" font-size="7" fill="#333" stroke="#333" stroke-width="0.1" textLength="40.3" lengthAdjust="spacingAndGlyphs"><tspan font-style="italic">Trsp</tspan> KO mice</text>
<path d="M42.8,274.3 C46.5,274.6 49,276.6 48.3,278.4 C47.4,280.2 39,280.4 31.5,279.9" fill="none" stroke="#c7a6a6" stroke-width="0.8"/>
<path d="M16.8,271 C17.8,269.8 19.5,268.3 21,267.4 C22,266.6 22.8,265.9 23.6,265.5 C24.4,265.1 25.2,265.4 25.8,265.9 C28.5,265.8 31,266.1 33.5,266.8 C37.5,267.8 41.5,270.3 43.6,273.3 C44,275.2 42,276.7 38,276.9 L30,276.9 C27,276.7 24.5,276 22.5,274.8 C20.5,273.8 18.5,272.6 16.8,271 Z" fill="#3d3b3b"/>
<ellipse cx="24.2" cy="266.6" rx="1.1" ry="1.2" fill="#5a5555"/>
<circle cx="20" cy="269.6" r="0.45" fill="#111"/>
<ellipse cx="23.4" cy="277.4" rx="1.6" ry="0.6" fill="#b7a4a4"/>
<ellipse cx="34" cy="277.6" rx="1.8" ry="0.6" fill="#b7a4a4"/>
<text x="56.40" y="280.00" font-size="8.8" fill="#231f20" stroke="#231f20" stroke-width="0.06" textLength="72.20" lengthAdjust="spacingAndGlyphs"><tspan>In B220</tspan><tspan font-size="5.46" dy="-4.05">+</tspan><tspan dy="4.05"> BM cells</tspan></text>
<text x="236.40" y="149.40" font-size="12" fill="#111" font-weight="bold">D</text>
<text x="281.30" y="157.00" font-size="8.7" fill="#231f20" stroke="#231f20" stroke-width="0.06" textLength="39.20" lengthAdjust="spacingAndGlyphs">Pre-pro-B</text>
<text x="362.70" y="157.00" font-size="8.7" fill="#231f20" stroke="#231f20" stroke-width="0.06" textLength="22.30" lengthAdjust="spacingAndGlyphs">Pro-B</text>
<text x="424.60" y="146.40" font-size="8.7" fill="#231f20" stroke="#231f20" stroke-width="0.06" textLength="40.00" lengthAdjust="spacingAndGlyphs">Pre-B and</text>
<text x="422.30" y="157.00" font-size="8.7" fill="#231f20" stroke="#231f20" stroke-width="0.06" textLength="47.40" lengthAdjust="spacingAndGlyphs">Immature B</text>
<text x="244.80" y="199.30" font-size="9.0" fill="#2a2a2a" stroke="#2a2a2a" stroke-width="0.1" text-anchor="middle" textLength="66.20" lengthAdjust="spacingAndGlyphs" transform="rotate(-90 244.80 199.30)">C11-BODIPY 581/591</text>
<text x="251.60" y="198.10" font-size="8.2" fill="#2a2a2a" stroke="#2a2a2a" stroke-width="0.1" text-anchor="middle" textLength="13.60" lengthAdjust="spacingAndGlyphs" transform="rotate(-90 251.60 198.10)">(MFI)</text>
<rect x="279.70" y="207.59" width="6.20" height="27.01" fill="#e48a7e"/>
<rect x="291.70" y="208.24" width="6.20" height="26.36" fill="#e48a7e"/>
<rect x="303.70" y="210.17" width="6.20" height="24.43" fill="#b8d7f2"/>
<rect x="315.70" y="197.95" width="6.20" height="36.65" fill="#b8d7f2"/>
<line x1="318.80" y1="179.17" x2="318.80" y2="207.34" stroke="#2a4a62" stroke-width="0.7"/>
<line x1="317.50" y1="179.17" x2="320.10" y2="179.17" stroke="#2a4a62" stroke-width="0.7"/>
<line x1="317.50" y1="207.34" x2="320.10" y2="207.34" stroke="#2a4a62" stroke-width="0.7"/>
<circle cx="282.80" cy="205.41" r="1.35" fill="#7a1518" stroke="#2a0506" stroke-width="0.55"/>
<circle cx="282.10" cy="207.08" r="1.35" fill="#7a1518" stroke="#2a0506" stroke-width="0.55"/>
<circle cx="283.70" cy="207.72" r="1.35" fill="#7a1518" stroke="#2a0506" stroke-width="0.55"/>
<circle cx="293.90" cy="207.98" r="1.35" fill="#7a1518" stroke="#2a0506" stroke-width="0.55"/>
<circle cx="295.00" cy="208.11" r="1.35" fill="#7a1518" stroke="#2a0506" stroke-width="0.55"/>
<circle cx="296.00" cy="207.85" r="1.35" fill="#7a1518" stroke="#2a0506" stroke-width="0.55"/>
<circle cx="306.80" cy="206.05" r="1.3" fill="#6fa6d2" stroke="#17344b" stroke-width="0.75"/>
<circle cx="306.20" cy="209.52" r="1.3" fill="#6fa6d2" stroke="#17344b" stroke-width="0.75"/>
<circle cx="307.50" cy="210.17" r="1.3" fill="#6fa6d2" stroke="#17344b" stroke-width="0.75"/>
<circle cx="318.80" cy="181.49" r="1.3" fill="#6fa6d2" stroke="#17344b" stroke-width="0.75"/>
<circle cx="318.80" cy="192.93" r="1.3" fill="#6fa6d2" stroke="#17344b" stroke-width="0.75"/>
<circle cx="318.80" cy="198.08" r="1.3" fill="#6fa6d2" stroke="#17344b" stroke-width="0.75"/>
<circle cx="318.80" cy="207.34" r="1.3" fill="#6fa6d2" stroke="#17344b" stroke-width="0.75"/>
<line x1="276.80" y1="235.20" x2="276.80" y2="167.70" stroke="#2b2530" stroke-width="1.3"/>
<line x1="276.20" y1="234.60" x2="324.80" y2="234.60" stroke="#2b2530" stroke-width="1.3"/>
<line x1="273.40" y1="234.60" x2="276.80" y2="234.60" stroke="#2b2530" stroke-width="0.9"/>
<text x="269.90" y="236.90" font-size="6.3" fill="#333" stroke="#333" stroke-width="0.1" text-anchor="end">0</text>
<line x1="273.40" y1="221.74" x2="276.80" y2="221.74" stroke="#2b2530" stroke-width="0.9"/>
<text x="269.90" y="224.04" font-size="6.3" fill="#333" stroke="#333" stroke-width="0.1" text-anchor="end">100</text>
<line x1="273.40" y1="208.88" x2="276.80" y2="208.88" stroke="#2b2530" stroke-width="0.9"/>
<text x="269.90" y="211.18" font-size="6.3" fill="#333" stroke="#333" stroke-width="0.1" text-anchor="end">200</text>
<line x1="273.40" y1="196.02" x2="276.80" y2="196.02" stroke="#2b2530" stroke-width="0.9"/>
<text x="269.90" y="198.32" font-size="6.3" fill="#333" stroke="#333" stroke-width="0.1" text-anchor="end">300</text>
<line x1="273.40" y1="183.16" x2="276.80" y2="183.16" stroke="#2b2530" stroke-width="0.9"/>
<text x="269.90" y="185.46" font-size="6.3" fill="#333" stroke="#333" stroke-width="0.1" text-anchor="end">400</text>
<line x1="273.40" y1="170.30" x2="276.80" y2="170.30" stroke="#2b2530" stroke-width="0.9"/>
<text x="269.90" y="172.60" font-size="6.3" fill="#333" stroke="#333" stroke-width="0.1" text-anchor="end">500</text>
<line x1="282.80" y1="234.60" x2="282.80" y2="237.60" stroke="#2b2530" stroke-width="0.8"/>
<line x1="294.80" y1="234.60" x2="294.80" y2="237.60" stroke="#2b2530" stroke-width="0.8"/>
<line x1="306.80" y1="234.60" x2="306.80" y2="237.60" stroke="#2b2530" stroke-width="0.8"/>
<line x1="318.80" y1="234.60" x2="318.80" y2="237.60" stroke="#2b2530" stroke-width="0.8"/>
<polyline points="306.80,201.60 306.80,171.60 318.80,171.60 318.80,176.20" fill="none" stroke="#7c7c7c" stroke-width="0.95"/>
<text x="312.80" y="171.00" font-size="6.8" fill="#333" stroke="#333" stroke-width="0.1" text-anchor="middle">*</text>
<line x1="281.05" y1="245.25" x2="284.55" y2="245.25" stroke="#3c3c3c" stroke-width="0.8"/>
<line x1="282.80" y1="243.45" x2="282.80" y2="247.05" stroke="#3c3c3c" stroke-width="0.8"/>
<line x1="292.80" y1="245.35" x2="296.80" y2="245.35" stroke="#3c3c3c" stroke-width="0.8"/>
<line x1="305.05" y1="245.25" x2="308.55" y2="245.25" stroke="#3c3c3c" stroke-width="0.8"/>
<line x1="306.80" y1="243.45" x2="306.80" y2="247.05" stroke="#3c3c3c" stroke-width="0.8"/>
<line x1="316.80" y1="245.35" x2="320.80" y2="245.35" stroke="#3c3c3c" stroke-width="0.8"/>
<text x="270.50" y="247.50" font-size="7.0" fill="#333" stroke="#333" stroke-width="0.1" text-anchor="end">Vit E</text>
<rect x="352.30" y="209.44" width="6.20" height="25.16" fill="#e48a7e"/>
<rect x="364.30" y="209.92" width="6.20" height="24.68" fill="#e48a7e"/>
<rect x="376.30" y="208.40" width="6.20" height="26.20" fill="#b8d7f2"/>
<rect x="388.30" y="194.01" width="6.20" height="40.59" fill="#b8d7f2"/>
<line x1="391.40" y1="181.39" x2="391.40" y2="206.47" stroke="#2a4a62" stroke-width="0.7"/>
<line x1="390.10" y1="181.39" x2="392.70" y2="181.39" stroke="#2a4a62" stroke-width="0.7"/>
<line x1="390.10" y1="206.47" x2="392.70" y2="206.47" stroke="#2a4a62" stroke-width="0.7"/>
<circle cx="355.40" cy="206.87" r="1.35" fill="#7a1518" stroke="#2a0506" stroke-width="0.55"/>
<circle cx="354.60" cy="209.20" r="1.35" fill="#7a1518" stroke="#2a0506" stroke-width="0.55"/>
<circle cx="356.30" cy="209.84" r="1.35" fill="#7a1518" stroke="#2a0506" stroke-width="0.55"/>
<circle cx="367.40" cy="208.40" r="1.35" fill="#7a1518" stroke="#2a0506" stroke-width="0.55"/>
<circle cx="366.60" cy="209.44" r="1.35" fill="#7a1518" stroke="#2a0506" stroke-width="0.55"/>
<circle cx="368.30" cy="210.25" r="1.35" fill="#7a1518" stroke="#2a0506" stroke-width="0.55"/>
<circle cx="378.70" cy="207.92" r="1.3" fill="#6fa6d2" stroke="#17344b" stroke-width="0.75"/>
<circle cx="380.20" cy="208.72" r="1.3" fill="#6fa6d2" stroke="#17344b" stroke-width="0.75"/>
<circle cx="391.40" cy="177.53" r="1.3" fill="#6fa6d2" stroke="#17344b" stroke-width="0.75"/>
<circle cx="391.40" cy="192.24" r="1.3" fill="#6fa6d2" stroke="#17344b" stroke-width="0.75"/>
<circle cx="391.40" cy="199.15" r="1.3" fill="#6fa6d2" stroke="#17344b" stroke-width="0.75"/>
<circle cx="391.40" cy="206.39" r="1.3" fill="#6fa6d2" stroke="#17344b" stroke-width="0.75"/>
<line x1="349.40" y1="235.20" x2="349.40" y2="167.70" stroke="#2b2530" stroke-width="1.3"/>
<line x1="348.80" y1="234.60" x2="397.40" y2="234.60" stroke="#2b2530" stroke-width="1.3"/>
<line x1="346.00" y1="234.60" x2="349.40" y2="234.60" stroke="#2b2530" stroke-width="0.9"/>
<text x="342.50" y="236.90" font-size="6.3" fill="#333" stroke="#333" stroke-width="0.1" text-anchor="end">0</text>
<line x1="346.00" y1="218.53" x2="349.40" y2="218.53" stroke="#2b2530" stroke-width="0.9"/>
<text x="342.50" y="220.83" font-size="6.3" fill="#333" stroke="#333" stroke-width="0.1" text-anchor="end">200</text>
<line x1="346.00" y1="202.45" x2="349.40" y2="202.45" stroke="#2b2530" stroke-width="0.9"/>
<text x="342.50" y="204.75" font-size="6.3" fill="#333" stroke="#333" stroke-width="0.1" text-anchor="end">400</text>
<line x1="346.00" y1="186.38" x2="349.40" y2="186.38" stroke="#2b2530" stroke-width="0.9"/>
<text x="342.50" y="188.68" font-size="6.3" fill="#333" stroke="#333" stroke-width="0.1" text-anchor="end">600</text>
<line x1="346.00" y1="170.30" x2="349.40" y2="170.30" stroke="#2b2530" stroke-width="0.9"/>
<text x="342.50" y="172.60" font-size="6.3" fill="#333" stroke="#333" stroke-width="0.1" text-anchor="end">800</text>
<line x1="355.40" y1="234.60" x2="355.40" y2="237.60" stroke="#2b2530" stroke-width="0.8"/>
<line x1="367.40" y1="234.60" x2="367.40" y2="237.60" stroke="#2b2530" stroke-width="0.8"/>
<line x1="379.40" y1="234.60" x2="379.40" y2="237.60" stroke="#2b2530" stroke-width="0.8"/>
<line x1="391.40" y1="234.60" x2="391.40" y2="237.60" stroke="#2b2530" stroke-width="0.8"/>
<polyline points="379.40,201.60 379.40,168.50 391.40,168.50 391.40,173.90" fill="none" stroke="#7c7c7c" stroke-width="0.95"/>
<text x="385.40" y="167.90" font-size="6.8" fill="#333" stroke="#333" stroke-width="0.1" text-anchor="middle">*</text>
<line x1="353.65" y1="245.25" x2="357.15" y2="245.25" stroke="#3c3c3c" stroke-width="0.8"/>
<line x1="355.40" y1="243.45" x2="355.40" y2="247.05" stroke="#3c3c3c" stroke-width="0.8"/>
<line x1="365.40" y1="245.35" x2="369.40" y2="245.35" stroke="#3c3c3c" stroke-width="0.8"/>
<line x1="377.65" y1="245.25" x2="381.15" y2="245.25" stroke="#3c3c3c" stroke-width="0.8"/>
<line x1="379.40" y1="243.45" x2="379.40" y2="247.05" stroke="#3c3c3c" stroke-width="0.8"/>
<line x1="389.40" y1="245.35" x2="393.40" y2="245.35" stroke="#3c3c3c" stroke-width="0.8"/>
<rect x="424.80" y="213.22" width="6.20" height="21.38" fill="#e48a7e"/>
<rect x="436.80" y="213.70" width="6.20" height="20.90" fill="#e48a7e"/>
<rect x="448.80" y="210.01" width="6.20" height="24.59" fill="#b8d7f2"/>
<rect x="460.80" y="199.56" width="6.20" height="35.04" fill="#b8d7f2"/>
<line x1="463.90" y1="188.79" x2="463.90" y2="207.27" stroke="#2a4a62" stroke-width="0.7"/>
<line x1="462.60" y1="188.79" x2="465.20" y2="188.79" stroke="#2a4a62" stroke-width="0.7"/>
<line x1="462.60" y1="207.27" x2="465.20" y2="207.27" stroke="#2a4a62" stroke-width="0.7"/>
<circle cx="427.10" cy="213.38" r="1.35" fill="#7a1518" stroke="#2a0506" stroke-width="0.55"/>
<circle cx="428.70" cy="213.06" r="1.35" fill="#7a1518" stroke="#2a0506" stroke-width="0.55"/>
<circle cx="427.90" cy="213.54" r="1.35" fill="#7a1518" stroke="#2a0506" stroke-width="0.55"/>
<circle cx="439.10" cy="213.86" r="1.35" fill="#7a1518" stroke="#2a0506" stroke-width="0.55"/>
<circle cx="440.70" cy="213.54" r="1.35" fill="#7a1518" stroke="#2a0506" stroke-width="0.55"/>
<circle cx="439.90" cy="214.02" r="1.35" fill="#7a1518" stroke="#2a0506" stroke-width="0.55"/>
<circle cx="450.90" cy="208.40" r="1.3" fill="#6fa6d2" stroke="#17344b" stroke-width="0.75"/>
<circle cx="452.40" cy="209.84" r="1.3" fill="#6fa6d2" stroke="#17344b" stroke-width="0.75"/>
<circle cx="452.90" cy="208.88" r="1.3" fill="#6fa6d2" stroke="#17344b" stroke-width="0.75"/>
<circle cx="451.90" cy="211.45" r="1.3" fill="#6fa6d2" stroke="#17344b" stroke-width="0.75"/>
<circle cx="463.90" cy="188.30" r="1.3" fill="#6fa6d2" stroke="#17344b" stroke-width="0.75"/>
<circle cx="463.90" cy="196.02" r="1.3" fill="#6fa6d2" stroke="#17344b" stroke-width="0.75"/>
<circle cx="463.90" cy="200.68" r="1.3" fill="#6fa6d2" stroke="#17344b" stroke-width="0.75"/>
<circle cx="463.90" cy="207.27" r="1.3" fill="#6fa6d2" stroke="#17344b" stroke-width="0.75"/>
<line x1="421.90" y1="235.20" x2="421.90" y2="167.70" stroke="#2b2530" stroke-width="1.3"/>
<line x1="421.30" y1="234.60" x2="469.90" y2="234.60" stroke="#2b2530" stroke-width="1.3"/>
<line x1="418.50" y1="234.60" x2="421.90" y2="234.60" stroke="#2b2530" stroke-width="0.9"/>
<text x="415.00" y="236.90" font-size="6.3" fill="#333" stroke="#333" stroke-width="0.1" text-anchor="end">0</text>
<line x1="418.50" y1="218.53" x2="421.90" y2="218.53" stroke="#2b2530" stroke-width="0.9"/>
<text x="415.00" y="220.83" font-size="6.3" fill="#333" stroke="#333" stroke-width="0.1" text-anchor="end">100</text>
<line x1="418.50" y1="202.45" x2="421.90" y2="202.45" stroke="#2b2530" stroke-width="0.9"/>
<text x="415.00" y="204.75" font-size="6.3" fill="#333" stroke="#333" stroke-width="0.1" text-anchor="end">200</text>
<line x1="418.50" y1="186.38" x2="421.90" y2="186.38" stroke="#2b2530" stroke-width="0.9"/>
<text x="415.00" y="188.68" font-size="6.3" fill="#333" stroke="#333" stroke-width="0.1" text-anchor="end">300</text>
<line x1="418.50" y1="170.30" x2="421.90" y2="170.30" stroke="#2b2530" stroke-width="0.9"/>
<text x="415.00" y="172.60" font-size="6.3" fill="#333" stroke="#333" stroke-width="0.1" text-anchor="end">400</text>
<line x1="427.90" y1="234.60" x2="427.90" y2="237.60" stroke="#2b2530" stroke-width="0.8"/>
<line x1="439.90" y1="234.60" x2="439.90" y2="237.60" stroke="#2b2530" stroke-width="0.8"/>
<line x1="451.90" y1="234.60" x2="451.90" y2="237.60" stroke="#2b2530" stroke-width="0.8"/>
<line x1="463.90" y1="234.60" x2="463.90" y2="237.60" stroke="#2b2530" stroke-width="0.8"/>
<polyline points="451.90,203.90 451.90,178.50 463.90,178.50 463.90,183.10" fill="none" stroke="#7c7c7c" stroke-width="0.95"/>
<text x="457.90" y="177.90" font-size="6.8" fill="#333" stroke="#333" stroke-width="0.1" text-anchor="middle">*</text>
<line x1="426.15" y1="245.25" x2="429.65" y2="245.25" stroke="#3c3c3c" stroke-width="0.8"/>
<line x1="427.90" y1="243.45" x2="427.90" y2="247.05" stroke="#3c3c3c" stroke-width="0.8"/>
<line x1="437.90" y1="245.35" x2="441.90" y2="245.35" stroke="#3c3c3c" stroke-width="0.8"/>
<line x1="450.15" y1="245.25" x2="453.65" y2="245.25" stroke="#3c3c3c" stroke-width="0.8"/>
<line x1="451.90" y1="243.45" x2="451.90" y2="247.05" stroke="#3c3c3c" stroke-width="0.8"/>
<line x1="461.90" y1="245.35" x2="465.90" y2="245.35" stroke="#3c3c3c" stroke-width="0.8"/>
<rect x="476.40" y="166.20" width="8.40" height="4.40" fill="#bd1430"/>
<rect x="476.40" y="174.20" width="8.40" height="4.40" fill="#3fa2d6"/>
<text x="488.10" y="170.50" font-size="7.0" fill="#2a2a2a" stroke="#2a2a2a" stroke-width="0.1" textLength="23.00" lengthAdjust="spacingAndGlyphs">Control</text>
<text x="488.10" y="178.50" font-size="7.0" fill="#2a2a2a" stroke="#2a2a2a" stroke-width="0.1" textLength="24.8" lengthAdjust="spacingAndGlyphs"><tspan font-style="italic">Trsp</tspan> KO</text>
<text x="281.30" y="270.60" font-size="8.7" fill="#231f20" stroke="#231f20" stroke-width="0.06" textLength="39.20" lengthAdjust="spacingAndGlyphs">Pre-pro-B</text>
<text x="362.70" y="270.60" font-size="8.7" fill="#231f20" stroke="#231f20" stroke-width="0.06" textLength="22.30" lengthAdjust="spacingAndGlyphs">Pro-B</text>
<text x="424.60" y="260.20" font-size="8.7" fill="#231f20" stroke="#231f20" stroke-width="0.06" textLength="40.00" lengthAdjust="spacingAndGlyphs">Pre-B and</text>
<text x="422.30" y="270.60" font-size="8.7" fill="#231f20" stroke="#231f20" stroke-width="0.06" textLength="47.40" lengthAdjust="spacingAndGlyphs">Immature B</text>
<text x="253.90" y="311.00" font-size="8.5" fill="#2a2a2a" stroke="#2a2a2a" stroke-width="0.1" text-anchor="middle" textLength="43.20" lengthAdjust="spacingAndGlyphs" transform="rotate(-90 253.90 311.00)">CellROX (MFI)</text>
<rect x="279.70" y="325.17" width="6.20" height="19.93" fill="#e48a7e"/>
<rect x="291.70" y="323.88" width="6.20" height="21.22" fill="#e48a7e"/>
<rect x="303.70" y="329.67" width="6.20" height="15.43" fill="#b8d7f2"/>
<rect x="315.70" y="306.52" width="6.20" height="38.58" fill="#b8d7f2"/>
<line x1="282.80" y1="320.02" x2="282.80" y2="330.31" stroke="#5a2020" stroke-width="0.7"/>
<line x1="281.50" y1="320.02" x2="284.10" y2="320.02" stroke="#5a2020" stroke-width="0.7"/>
<line x1="281.50" y1="330.31" x2="284.10" y2="330.31" stroke="#5a2020" stroke-width="0.7"/>
<line x1="318.80" y1="293.66" x2="318.80" y2="326.13" stroke="#2a4a62" stroke-width="0.7"/>
<line x1="317.50" y1="293.66" x2="320.10" y2="293.66" stroke="#2a4a62" stroke-width="0.7"/>
<line x1="317.50" y1="326.13" x2="320.10" y2="326.13" stroke="#2a4a62" stroke-width="0.7"/>
<circle cx="282.80" cy="320.02" r="1.35" fill="#7a1518" stroke="#2a0506" stroke-width="0.55"/>
<circle cx="282.80" cy="322.60" r="1.35" fill="#7a1518" stroke="#2a0506" stroke-width="0.55"/>
<circle cx="282.80" cy="330.31" r="1.35" fill="#7a1518" stroke="#2a0506" stroke-width="0.55"/>
<circle cx="294.00" cy="323.56" r="1.35" fill="#7a1518" stroke="#2a0506" stroke-width="0.55"/>
<circle cx="295.60" cy="324.20" r="1.35" fill="#7a1518" stroke="#2a0506" stroke-width="0.55"/>
<circle cx="294.80" cy="323.88" r="1.35" fill="#7a1518" stroke="#2a0506" stroke-width="0.55"/>
<circle cx="306.00" cy="328.06" r="1.3" fill="#6fa6d2" stroke="#17344b" stroke-width="0.75"/>
<circle cx="307.30" cy="329.67" r="1.3" fill="#6fa6d2" stroke="#17344b" stroke-width="0.75"/>
<circle cx="307.80" cy="329.03" r="1.3" fill="#6fa6d2" stroke="#17344b" stroke-width="0.75"/>
<circle cx="318.80" cy="291.09" r="1.3" fill="#6fa6d2" stroke="#17344b" stroke-width="0.75"/>
<circle cx="318.80" cy="302.66" r="1.3" fill="#6fa6d2" stroke="#17344b" stroke-width="0.75"/>
<circle cx="318.80" cy="305.88" r="1.3" fill="#6fa6d2" stroke="#17344b" stroke-width="0.75"/>
<circle cx="318.80" cy="321.31" r="1.3" fill="#6fa6d2" stroke="#17344b" stroke-width="0.75"/>
<circle cx="318.80" cy="326.13" r="1.3" fill="#6fa6d2" stroke="#17344b" stroke-width="0.75"/>
<line x1="276.80" y1="345.70" x2="276.80" y2="278.20" stroke="#2b2530" stroke-width="1.3"/>
<line x1="276.20" y1="345.10" x2="324.80" y2="345.10" stroke="#2b2530" stroke-width="1.3"/>
<line x1="273.40" y1="345.10" x2="276.80" y2="345.10" stroke="#2b2530" stroke-width="0.9"/>
<text x="269.90" y="347.40" font-size="6.3" fill="#333" stroke="#333" stroke-width="0.1" text-anchor="end">0</text>
<line x1="273.40" y1="329.03" x2="276.80" y2="329.03" stroke="#2b2530" stroke-width="0.9"/>
<text x="269.90" y="331.33" font-size="6.3" fill="#333" stroke="#333" stroke-width="0.1" text-anchor="end">50</text>
<line x1="273.40" y1="312.95" x2="276.80" y2="312.95" stroke="#2b2530" stroke-width="0.9"/>
<text x="269.90" y="315.25" font-size="6.3" fill="#333" stroke="#333" stroke-width="0.1" text-anchor="end">100</text>
<line x1="273.40" y1="296.88" x2="276.80" y2="296.88" stroke="#2b2530" stroke-width="0.9"/>
<text x="269.90" y="299.18" font-size="6.3" fill="#333" stroke="#333" stroke-width="0.1" text-anchor="end">150</text>
<line x1="273.40" y1="280.80" x2="276.80" y2="280.80" stroke="#2b2530" stroke-width="0.9"/>
<text x="269.90" y="283.10" font-size="6.3" fill="#333" stroke="#333" stroke-width="0.1" text-anchor="end">200</text>
<line x1="282.80" y1="345.10" x2="282.80" y2="348.10" stroke="#2b2530" stroke-width="0.8"/>
<line x1="294.80" y1="345.10" x2="294.80" y2="348.10" stroke="#2b2530" stroke-width="0.8"/>
<line x1="306.80" y1="345.10" x2="306.80" y2="348.10" stroke="#2b2530" stroke-width="0.8"/>
<line x1="318.80" y1="345.10" x2="318.80" y2="348.10" stroke="#2b2530" stroke-width="0.8"/>
<polyline points="306.80,322.80 306.80,282.00 318.80,282.00 318.80,286.60" fill="none" stroke="#7c7c7c" stroke-width="0.95"/>
<text x="312.80" y="281.40" font-size="6.8" fill="#333" stroke="#333" stroke-width="0.1" text-anchor="middle">**</text>
<line x1="281.05" y1="355.45" x2="284.55" y2="355.45" stroke="#3c3c3c" stroke-width="0.8"/>
<line x1="282.80" y1="353.65" x2="282.80" y2="357.25" stroke="#3c3c3c" stroke-width="0.8"/>
<line x1="292.80" y1="355.55" x2="296.80" y2="355.55" stroke="#3c3c3c" stroke-width="0.8"/>
<line x1="305.05" y1="355.45" x2="308.55" y2="355.45" stroke="#3c3c3c" stroke-width="0.8"/>
<line x1="306.80" y1="353.65" x2="306.80" y2="357.25" stroke="#3c3c3c" stroke-width="0.8"/>
<line x1="316.80" y1="355.55" x2="320.80" y2="355.55" stroke="#3c3c3c" stroke-width="0.8"/>
<text x="270.50" y="357.70" font-size="7.0" fill="#333" stroke="#333" stroke-width="0.1" text-anchor="end">Vit E</text>
<rect x="352.30" y="324.20" width="6.20" height="20.90" fill="#e48a7e"/>
<rect x="364.30" y="321.31" width="6.20" height="23.79" fill="#e48a7e"/>
<rect x="376.30" y="331.28" width="6.20" height="13.82" fill="#b8d7f2"/>
<rect x="388.30" y="303.63" width="6.20" height="41.47" fill="#b8d7f2"/>
<line x1="355.40" y1="319.06" x2="355.40" y2="329.67" stroke="#5a2020" stroke-width="0.7"/>
<line x1="354.10" y1="319.06" x2="356.70" y2="319.06" stroke="#5a2020" stroke-width="0.7"/>
<line x1="354.10" y1="329.67" x2="356.70" y2="329.67" stroke="#5a2020" stroke-width="0.7"/>
<line x1="391.40" y1="296.55" x2="391.40" y2="316.49" stroke="#2a4a62" stroke-width="0.7"/>
<line x1="390.10" y1="296.55" x2="392.70" y2="296.55" stroke="#2a4a62" stroke-width="0.7"/>
<line x1="390.10" y1="316.49" x2="392.70" y2="316.49" stroke="#2a4a62" stroke-width="0.7"/>
<circle cx="355.40" cy="319.06" r="1.35" fill="#7a1518" stroke="#2a0506" stroke-width="0.55"/>
<circle cx="355.40" cy="321.95" r="1.35" fill="#7a1518" stroke="#2a0506" stroke-width="0.55"/>
<circle cx="355.40" cy="329.67" r="1.35" fill="#7a1518" stroke="#2a0506" stroke-width="0.55"/>
<circle cx="367.40" cy="317.45" r="1.35" fill="#7a1518" stroke="#2a0506" stroke-width="0.55"/>
<circle cx="366.60" cy="320.34" r="1.35" fill="#7a1518" stroke="#2a0506" stroke-width="0.55"/>
<circle cx="368.20" cy="321.95" r="1.35" fill="#7a1518" stroke="#2a0506" stroke-width="0.55"/>
<circle cx="367.40" cy="323.56" r="1.35" fill="#7a1518" stroke="#2a0506" stroke-width="0.55"/>
<circle cx="378.20" cy="330.63" r="1.3" fill="#6fa6d2" stroke="#17344b" stroke-width="0.75"/>
<circle cx="379.40" cy="330.31" r="1.3" fill="#6fa6d2" stroke="#17344b" stroke-width="0.75"/>
<circle cx="380.60" cy="330.63" r="1.3" fill="#6fa6d2" stroke="#17344b" stroke-width="0.75"/>
<circle cx="391.40" cy="292.70" r="1.3" fill="#6fa6d2" stroke="#17344b" stroke-width="0.75"/>
<circle cx="390.70" cy="299.13" r="1.3" fill="#6fa6d2" stroke="#17344b" stroke-width="0.75"/>
<circle cx="392.20" cy="301.05" r="1.3" fill="#6fa6d2" stroke="#17344b" stroke-width="0.75"/>
<circle cx="391.40" cy="321.63" r="1.3" fill="#6fa6d2" stroke="#17344b" stroke-width="0.75"/>
<line x1="349.40" y1="345.70" x2="349.40" y2="278.20" stroke="#2b2530" stroke-width="1.3"/>
<line x1="348.80" y1="345.10" x2="397.40" y2="345.10" stroke="#2b2530" stroke-width="1.3"/>
<line x1="346.00" y1="345.10" x2="349.40" y2="345.10" stroke="#2b2530" stroke-width="0.9"/>
<text x="342.50" y="347.40" font-size="6.3" fill="#333" stroke="#333" stroke-width="0.1" text-anchor="end">0</text>
<line x1="346.00" y1="329.03" x2="349.40" y2="329.03" stroke="#2b2530" stroke-width="0.9"/>
<text x="342.50" y="331.33" font-size="6.3" fill="#333" stroke="#333" stroke-width="0.1" text-anchor="end">50</text>
<line x1="346.00" y1="312.95" x2="349.40" y2="312.95" stroke="#2b2530" stroke-width="0.9"/>
<text x="342.50" y="315.25" font-size="6.3" fill="#333" stroke="#333" stroke-width="0.1" text-anchor="end">100</text>
<line x1="346.00" y1="296.88" x2="349.40" y2="296.88" stroke="#2b2530" stroke-width="0.9"/>
<text x="342.50" y="299.18" font-size="6.3" fill="#333" stroke="#333" stroke-width="0.1" text-anchor="end">150</text>
<line x1="346.00" y1="280.80" x2="349.40" y2="280.80" stroke="#2b2530" stroke-width="0.9"/>
<text x="342.50" y="283.10" font-size="6.3" fill="#333" stroke="#333" stroke-width="0.1" text-anchor="end">200</text>
<line x1="355.40" y1="345.10" x2="355.40" y2="348.10" stroke="#2b2530" stroke-width="0.8"/>
<line x1="367.40" y1="345.10" x2="367.40" y2="348.10" stroke="#2b2530" stroke-width="0.8"/>
<line x1="379.40" y1="345.10" x2="379.40" y2="348.10" stroke="#2b2530" stroke-width="0.8"/>
<line x1="391.40" y1="345.10" x2="391.40" y2="348.10" stroke="#2b2530" stroke-width="0.8"/>
<polyline points="379.40,326.70 379.40,282.00 391.40,282.00 391.40,287.40" fill="none" stroke="#7c7c7c" stroke-width="0.95"/>
<text x="385.40" y="281.40" font-size="6.8" fill="#333" stroke="#333" stroke-width="0.1" text-anchor="middle">***</text>
<line x1="353.65" y1="355.45" x2="357.15" y2="355.45" stroke="#3c3c3c" stroke-width="0.8"/>
<line x1="355.40" y1="353.65" x2="355.40" y2="357.25" stroke="#3c3c3c" stroke-width="0.8"/>
<line x1="365.40" y1="355.55" x2="369.40" y2="355.55" stroke="#3c3c3c" stroke-width="0.8"/>
<line x1="377.65" y1="355.45" x2="381.15" y2="355.45" stroke="#3c3c3c" stroke-width="0.8"/>
<line x1="379.40" y1="353.65" x2="379.40" y2="357.25" stroke="#3c3c3c" stroke-width="0.8"/>
<line x1="389.40" y1="355.55" x2="393.40" y2="355.55" stroke="#3c3c3c" stroke-width="0.8"/>
<rect x="424.80" y="332.88" width="6.20" height="12.22" fill="#e48a7e"/>
<rect x="436.80" y="330.57" width="6.20" height="14.53" fill="#e48a7e"/>
<rect x="448.80" y="331.28" width="6.20" height="13.82" fill="#b8d7f2"/>
<rect x="460.80" y="307.42" width="6.20" height="37.68" fill="#b8d7f2"/>
<line x1="463.90" y1="292.37" x2="463.90" y2="323.88" stroke="#2a4a62" stroke-width="0.7"/>
<line x1="462.60" y1="292.37" x2="465.20" y2="292.37" stroke="#2a4a62" stroke-width="0.7"/>
<line x1="462.60" y1="323.88" x2="465.20" y2="323.88" stroke="#2a4a62" stroke-width="0.7"/>
<circle cx="427.10" cy="330.95" r="1.35" fill="#7a1518" stroke="#2a0506" stroke-width="0.55"/>
<circle cx="428.70" cy="332.24" r="1.35" fill="#7a1518" stroke="#2a0506" stroke-width="0.55"/>
<circle cx="427.90" cy="336.10" r="1.35" fill="#7a1518" stroke="#2a0506" stroke-width="0.55"/>
<circle cx="439.10" cy="330.31" r="1.35" fill="#7a1518" stroke="#2a0506" stroke-width="0.55"/>
<circle cx="440.70" cy="330.63" r="1.35" fill="#7a1518" stroke="#2a0506" stroke-width="0.55"/>
<circle cx="439.90" cy="330.95" r="1.35" fill="#7a1518" stroke="#2a0506" stroke-width="0.55"/>
<circle cx="451.10" cy="330.31" r="1.3" fill="#6fa6d2" stroke="#17344b" stroke-width="0.75"/>
<circle cx="452.50" cy="332.24" r="1.3" fill="#6fa6d2" stroke="#17344b" stroke-width="0.75"/>
<circle cx="451.90" cy="332.56" r="1.3" fill="#6fa6d2" stroke="#17344b" stroke-width="0.75"/>
<circle cx="463.90" cy="293.66" r="1.3" fill="#6fa6d2" stroke="#17344b" stroke-width="0.75"/>
<circle cx="463.90" cy="295.59" r="1.3" fill="#6fa6d2" stroke="#17344b" stroke-width="0.75"/>
<circle cx="463.90" cy="313.59" r="1.3" fill="#6fa6d2" stroke="#17344b" stroke-width="0.75"/>
<circle cx="463.90" cy="322.60" r="1.3" fill="#6fa6d2" stroke="#17344b" stroke-width="0.75"/>
<line x1="421.90" y1="345.70" x2="421.90" y2="278.20" stroke="#2b2530" stroke-width="1.3"/>
<line x1="421.30" y1="345.10" x2="469.90" y2="345.10" stroke="#2b2530" stroke-width="1.3"/>
<line x1="418.50" y1="345.10" x2="421.90" y2="345.10" stroke="#2b2530" stroke-width="0.9"/>
<text x="415.00" y="347.40" font-size="6.3" fill="#333" stroke="#333" stroke-width="0.1" text-anchor="end">0</text>
<line x1="418.50" y1="332.24" x2="421.90" y2="332.24" stroke="#2b2530" stroke-width="0.9"/>
<text x="415.00" y="334.54" font-size="6.3" fill="#333" stroke="#333" stroke-width="0.1" text-anchor="end">20</text>
<line x1="418.50" y1="319.38" x2="421.90" y2="319.38" stroke="#2b2530" stroke-width="0.9"/>
<text x="415.00" y="321.68" font-size="6.3" fill="#333" stroke="#333" stroke-width="0.1" text-anchor="end">40</text>
<line x1="418.50" y1="306.52" x2="421.90" y2="306.52" stroke="#2b2530" stroke-width="0.9"/>
<text x="415.00" y="308.82" font-size="6.3" fill="#333" stroke="#333" stroke-width="0.1" text-anchor="end">60</text>
<line x1="418.50" y1="293.66" x2="421.90" y2="293.66" stroke="#2b2530" stroke-width="0.9"/>
<text x="415.00" y="295.96" font-size="6.3" fill="#333" stroke="#333" stroke-width="0.1" text-anchor="end">80</text>
<line x1="418.50" y1="280.80" x2="421.90" y2="280.80" stroke="#2b2530" stroke-width="0.9"/>
<text x="415.00" y="283.10" font-size="6.3" fill="#333" stroke="#333" stroke-width="0.1" text-anchor="end">100</text>
<line x1="427.90" y1="345.10" x2="427.90" y2="348.10" stroke="#2b2530" stroke-width="0.8"/>
<line x1="439.90" y1="345.10" x2="439.90" y2="348.10" stroke="#2b2530" stroke-width="0.8"/>
<line x1="451.90" y1="345.10" x2="451.90" y2="348.10" stroke="#2b2530" stroke-width="0.8"/>
<line x1="463.90" y1="345.10" x2="463.90" y2="348.10" stroke="#2b2530" stroke-width="0.8"/>
<polyline points="451.90,323.60 451.90,282.80 463.90,282.80 463.90,287.40" fill="none" stroke="#7c7c7c" stroke-width="0.95"/>
<text x="457.90" y="282.20" font-size="6.8" fill="#333" stroke="#333" stroke-width="0.1" text-anchor="middle">**</text>
<line x1="426.15" y1="355.45" x2="429.65" y2="355.45" stroke="#3c3c3c" stroke-width="0.8"/>
<line x1="427.90" y1="353.65" x2="427.90" y2="357.25" stroke="#3c3c3c" stroke-width="0.8"/>
<line x1="437.90" y1="355.55" x2="441.90" y2="355.55" stroke="#3c3c3c" stroke-width="0.8"/>
<line x1="450.15" y1="355.45" x2="453.65" y2="355.45" stroke="#3c3c3c" stroke-width="0.8"/>
<line x1="451.90" y1="353.65" x2="451.90" y2="357.25" stroke="#3c3c3c" stroke-width="0.8"/>
<line x1="461.90" y1="355.55" x2="465.90" y2="355.55" stroke="#3c3c3c" stroke-width="0.8"/>
<text x="7.60" y="410.90" font-size="12" fill="#111" font-weight="bold">E</text>
<g transform="translate(6.6 393.2)"><path d="M36.5,33 C37,29 38.5,27.2 40.3,26.8 C41.5,27 42.3,27.4 43.5,26 C45,23.5 47.5,20.5 50.9,19.6 C54,19.6 57.5,21.5 60,24 C61.5,25.8 63,27.6 65,28.6 C67.5,28.4 70,29.4 70.3,32 L70,34.6 C60,36 45,35.8 36.8,34.6 Z" fill="#7d532c"/><rect x="49.55" y="18.29" width="3.7" height="3.5" rx="1.1" fill="#8a5d33" stroke="#5a3a1c" stroke-width="0.45"/><rect x="46.90" y="20.49" width="3.7" height="3.5" rx="1.1" fill="#7e532c" stroke="#5a3a1c" stroke-width="0.45"/><rect x="49.87" y="20.22" width="3.7" height="3.5" rx="1.1" fill="#916336" stroke="#5a3a1c" stroke-width="0.45"/><rect x="53.87" y="20.65" width="3.7" height="3.5" rx="1.1" fill="#85592f" stroke="#5a3a1c" stroke-width="0.45"/><rect x="44.35" y="23.22" width="3.7" height="3.5" rx="1.1" fill="#9a6c40" stroke="#5a3a1c" stroke-width="0.45"/><rect x="47.99" y="22.92" width="3.7" height="3.5" rx="1.1" fill="#85592f" stroke="#5a3a1c" stroke-width="0.45"/><rect x="51.73" y="22.76" width="3.7" height="3.5" rx="1.1" fill="#916336" stroke="#5a3a1c" stroke-width="0.45"/><rect x="55.48" y="23.12" width="3.7" height="3.5" rx="1.1" fill="#916336" stroke="#5a3a1c" stroke-width="0.45"/><rect x="58.56" y="22.42" width="3.7" height="3.5" rx="1.1" fill="#7e532c" stroke="#5a3a1c" stroke-width="0.45"/><rect x="37.04" y="25.18" width="3.7" height="3.5" rx="1.1" fill="#85592f" stroke="#5a3a1c" stroke-width="0.45"/><rect x="43.13" y="25.06" width="3.7" height="3.5" rx="1.1" fill="#916336" stroke="#5a3a1c" stroke-width="0.45"/><rect x="46.62" y="25.22" width="3.7" height="3.5" rx="1.1" fill="#916336" stroke="#5a3a1c" stroke-width="0.45"/><rect x="49.68" y="26.01" width="3.7" height="3.5" rx="1.1" fill="#7e532c" stroke="#5a3a1c" stroke-width="0.45"/><rect x="53.75" y="25.68" width="3.7" height="3.5" rx="1.1" fill="#916336" stroke="#5a3a1c" stroke-width="0.45"/><rect x="57.30" y="25.74" width="3.7" height="3.5" rx="1.1" fill="#9a6c40" stroke="#5a3a1c" stroke-width="0.45"/><rect x="59.99" y="25.41" width="3.7" height="3.5" rx="1.1" fill="#916336" stroke="#5a3a1c" stroke-width="0.45"/><rect x="66.10" y="25.31" width="3.7" height="3.5" rx="1.1" fill="#744c28" stroke="#5a3a1c" stroke-width="0.45"/><rect x="38.79" y="27.95" width="3.7" height="3.5" rx="1.1" fill="#85592f" stroke="#5a3a1c" stroke-width="0.45"/><rect x="35.83" y="28.06" width="3.7" height="3.5" rx="1.1" fill="#85592f" stroke="#5a3a1c" stroke-width="0.45"/><rect x="40.50" y="28.17" width="3.7" height="3.5" rx="1.1" fill="#9a6c40" stroke="#5a3a1c" stroke-width="0.45"/><rect x="44.51" y="28.23" width="3.7" height="3.5" rx="1.1" fill="#9a6c40" stroke="#5a3a1c" stroke-width="0.45"/><rect x="48.11" y="28.11" width="3.7" height="3.5" rx="1.1" fill="#85592f" stroke="#5a3a1c" stroke-width="0.45"/><rect x="51.91" y="28.41" width="3.7" height="3.5" rx="1.1" fill="#9a6c40" stroke="#5a3a1c" stroke-width="0.45"/><rect x="54.76" y="28.84" width="3.7" height="3.5" rx="1.1" fill="#744c28" stroke="#5a3a1c" stroke-width="0.45"/><rect x="58.65" y="28.89" width="3.7" height="3.5" rx="1.1" fill="#9a6c40" stroke="#5a3a1c" stroke-width="0.45"/><rect x="61.99" y="28.23" width="3.7" height="3.5" rx="1.1" fill="#916336" stroke="#5a3a1c" stroke-width="0.45"/><rect x="66.85" y="28.30" width="3.7" height="3.5" rx="1.1" fill="#9a6c40" stroke="#5a3a1c" stroke-width="0.45"/><rect x="35.63" y="31.30" width="3.7" height="3.5" rx="1.1" fill="#7e532c" stroke="#5a3a1c" stroke-width="0.45"/><rect x="39.15" y="31.41" width="3.7" height="3.5" rx="1.1" fill="#7e532c" stroke="#5a3a1c" stroke-width="0.45"/><rect x="43.15" y="31.75" width="3.7" height="3.5" rx="1.1" fill="#744c28" stroke="#5a3a1c" stroke-width="0.45"/><rect x="46.18" y="31.90" width="3.7" height="3.5" rx="1.1" fill="#85592f" stroke="#5a3a1c" stroke-width="0.45"/><rect x="49.92" y="31.46" width="3.7" height="3.5" rx="1.1" fill="#744c28" stroke="#5a3a1c" stroke-width="0.45"/><rect x="54.08" y="31.29" width="3.7" height="3.5" rx="1.1" fill="#8a5d33" stroke="#5a3a1c" stroke-width="0.45"/><rect x="57.39" y="31.26" width="3.7" height="3.5" rx="1.1" fill="#744c28" stroke="#5a3a1c" stroke-width="0.45"/><rect x="60.79" y="31.75" width="3.7" height="3.5" rx="1.1" fill="#8a5d33" stroke="#5a3a1c" stroke-width="0.45"/><rect x="64.27" y="31.64" width="3.7" height="3.5" rx="1.1" fill="#9a6c40" stroke="#5a3a1c" stroke-width="0.45"/><rect x="67.18" y="31.00" width="3.7" height="3.5" rx="1.1" fill="#7e532c" stroke="#5a3a1c" stroke-width="0.45"/><rect x="30.3" y="30.1" width="3.8" height="4.6" rx="1" fill="#86603a" stroke="#5a3a1c" stroke-width="0.45"/><rect x="59.6" y="37.4" width="4.5" height="3.6" rx="1" fill="#86603a" stroke="#5a3a1c" stroke-width="0.45"/></g>
<g transform="translate(6.5 393.3)"><g>
<path d="M121.5,27.6 C127,28.6 130,28.4 132.1,28.2 C136,27.8 140,26.6 144.2,26.5 C147.5,26.4 150,26.8 151.6,27.7 C153.6,28.8 155,30.1 155.6,31.5 C156.3,33.5 156.6,35.5 156.4,37.6 L155.6,37.6 C155.5,35.5 155.1,33.6 154.3,31.9 C153.6,30.5 152.4,29.5 150.8,28.9 C149,28.2 147,28 144.3,28.1 C140.2,28.3 136.3,29.6 132.3,30 C129.5,30.3 126,30.2 121.5,29.6 Z" fill="#c29c9e"/>
<path d="M78.3,27.6 C79,25.5 79.8,23.6 80.6,22.2 C81.4,20.8 82.2,19.8 82.9,19 C83.8,17 84.7,15 85.8,13.8 C87,12.9 88,12.6 89,12.6 C91,12.4 93.5,11.9 95.6,11.8 C97,11 98.5,10.4 100.2,10.3 L106,10.4 C108,10.5 110,11.8 111.5,12.9 C113.5,14 115,15 116.2,16.4 C117.8,18 118.8,19.2 119.6,20.4 C120.8,22 121.6,23.6 121.9,25 C122.3,26 122.5,27 122.5,27.9 C121,29 119,29.4 117.3,29.7 C115.5,30.1 113.5,30.5 111.5,30.5 L105.8,30.3 L100,30.3 L87.5,30.3 C85,30.2 82.5,30 80.6,29.7 C79.5,29.3 78.7,28.6 78.3,27.6 Z" fill="#56514f" stroke="#403b3a" stroke-width="0.5"/>
<path d="M110,13 C115,15 119,19.5 121.2,24.5 C121,27.5 118,29.5 113,30 C116,26 115,19 110,13 Z" fill="#575252" opacity="0.8"/>
<ellipse cx="86.6" cy="13.9" rx="1.3" ry="1.4" fill="#403d3d"/>
<path d="M85.5,25.5 C86.8,27.5 87.8,29.5 88.6,31.3" stroke="#6d6363" stroke-width="0.5" fill="none"/>
<path d="M103.5,20.5 C107.5,21.5 110.5,25.5 110.8,30.2" stroke="#645b5b" stroke-width="0.5" fill="none"/>
<ellipse cx="92.5" cy="17.3" rx="2.7" ry="3.4" fill="#cdb2aa"/>
<ellipse cx="92.8" cy="17.6" rx="1.6" ry="2.3" fill="#d9c1b9"/>
<circle cx="84.1" cy="23.3" r="0.85" fill="#151515"/>
<ellipse cx="90.2" cy="31.6" rx="2.3" ry="0.75" fill="#b9a5a5"/>
<ellipse cx="110.1" cy="30.8" rx="2.8" ry="0.7" fill="#b08d8d"/>
<ellipse cx="78.7" cy="27.6" rx="0.6" ry="0.6" fill="#bfa0a0"/>
</g></g>
<text x="26.00" y="447.20" font-size="7.1" fill="#333" stroke="#333" stroke-width="0.1" textLength="39.70" lengthAdjust="spacingAndGlyphs">Control mice</text>
<line x1="71.00" y1="444.70" x2="100.30" y2="444.70" stroke="#222" stroke-width="1.05"/>
<line x1="71.00" y1="444.70" x2="100.30" y2="466.60" stroke="#222" stroke-width="1.05"/>
<text x="103.80" y="447.20" font-size="7.1" fill="#333" stroke="#333" stroke-width="0.1" textLength="48.40" lengthAdjust="spacingAndGlyphs">Control diet (+)</text>
<text x="103.80" y="469.10" font-size="7.1" fill="#333" stroke="#333" stroke-width="0.1" textLength="57.10" lengthAdjust="spacingAndGlyphs">Vit E-rich diet (++)</text>
<text x="25.8" y="487.70" font-size="7.1" fill="#333" stroke="#333" stroke-width="0.1" textLength="39.6" lengthAdjust="spacingAndGlyphs"><tspan font-style="italic">Trsp</tspan> KO mice</text>
<line x1="71.00" y1="485.20" x2="100.30" y2="485.20" stroke="#222" stroke-width="1.05"/>
<line x1="71.00" y1="485.20" x2="100.30" y2="507.40" stroke="#222" stroke-width="1.05"/>
<text x="103.80" y="487.70" font-size="7.1" fill="#333" stroke="#333" stroke-width="0.1" textLength="48.40" lengthAdjust="spacingAndGlyphs">Control diet (+)</text>
<text x="103.80" y="509.90" font-size="7.1" fill="#333" stroke="#333" stroke-width="0.1" textLength="57.10" lengthAdjust="spacingAndGlyphs">Vit E-rich diet (++)</text>
<text x="236.40" y="382.00" font-size="12" fill="#111" font-weight="bold">F</text>
<text x="288.40" y="383.50" font-size="8.7" fill="#231f20" stroke="#231f20" stroke-width="0.06" textLength="24.60" lengthAdjust="spacingAndGlyphs"><tspan>B220</tspan><tspan font-size="5.39" dy="-4.00">+</tspan></text>
<text x="345.50" y="383.50" font-size="8.7" fill="#231f20" stroke="#231f20" stroke-width="0.06" textLength="56.60" lengthAdjust="spacingAndGlyphs"><tspan>CD11b</tspan><tspan font-size="5.39" dy="-4.00">+</tspan><tspan dy="4.00">Gr-1</tspan><tspan font-size="5.39" dy="-4.00">+</tspan></text>
<text x="418.50" y="383.50" font-size="8.7" fill="#231f20" stroke="#231f20" stroke-width="0.06" textLength="55.80" lengthAdjust="spacingAndGlyphs"><tspan>CD11b</tspan><tspan font-size="5.39" dy="-4.00">+</tspan><tspan dy="4.00">Gr-1</tspan><tspan font-size="5.39" dy="-4.00">–</tspan></text>
<text x="257.80" y="427.20" font-size="8.8" fill="#2a2a2a" stroke="#2a2a2a" stroke-width="0.1" text-anchor="middle" textLength="66.40" lengthAdjust="spacingAndGlyphs" transform="rotate(-90 257.80 427.20)">% in Live spleen cells</text>
<rect x="279.70" y="404.48" width="6.20" height="56.72" fill="#e48a7e"/>
<rect x="291.70" y="403.72" width="6.20" height="57.48" fill="#e48a7e"/>
<rect x="303.70" y="434.67" width="6.20" height="26.53" fill="#b8d7f2"/>
<rect x="315.70" y="426.15" width="6.20" height="35.05" fill="#b8d7f2"/>
<line x1="318.80" y1="418.50" x2="318.80" y2="430.47" stroke="#2a4a62" stroke-width="0.7"/>
<line x1="317.50" y1="418.50" x2="320.10" y2="418.50" stroke="#2a4a62" stroke-width="0.7"/>
<line x1="317.50" y1="430.47" x2="320.10" y2="430.47" stroke="#2a4a62" stroke-width="0.7"/>
<circle cx="282.80" cy="400.60" r="1.35" fill="#7a1518" stroke="#2a0506" stroke-width="0.55"/>
<circle cx="282.00" cy="405.34" r="1.35" fill="#7a1518" stroke="#2a0506" stroke-width="0.55"/>
<circle cx="283.70" cy="405.34" r="1.35" fill="#7a1518" stroke="#2a0506" stroke-width="0.55"/>
<circle cx="294.80" cy="399.95" r="1.35" fill="#7a1518" stroke="#2a0506" stroke-width="0.55"/>
<circle cx="294.80" cy="403.40" r="1.35" fill="#7a1518" stroke="#2a0506" stroke-width="0.55"/>
<circle cx="294.80" cy="405.34" r="1.35" fill="#7a1518" stroke="#2a0506" stroke-width="0.55"/>
<circle cx="306.00" cy="434.24" r="1.3" fill="#6fa6d2" stroke="#17344b" stroke-width="0.75"/>
<circle cx="307.60" cy="434.24" r="1.3" fill="#6fa6d2" stroke="#17344b" stroke-width="0.75"/>
<circle cx="306.80" cy="439.63" r="1.3" fill="#6fa6d2" stroke="#17344b" stroke-width="0.75"/>
<circle cx="318.80" cy="419.68" r="1.3" fill="#6fa6d2" stroke="#17344b" stroke-width="0.75"/>
<circle cx="318.80" cy="426.91" r="1.3" fill="#6fa6d2" stroke="#17344b" stroke-width="0.75"/>
<circle cx="318.80" cy="430.04" r="1.3" fill="#6fa6d2" stroke="#17344b" stroke-width="0.75"/>
<line x1="276.80" y1="461.80" x2="276.80" y2="393.90" stroke="#2b2530" stroke-width="1.3"/>
<line x1="276.20" y1="461.20" x2="324.80" y2="461.20" stroke="#2b2530" stroke-width="1.3"/>
<line x1="273.40" y1="461.20" x2="276.80" y2="461.20" stroke="#2b2530" stroke-width="0.9"/>
<text x="269.90" y="463.50" font-size="6.3" fill="#333" stroke="#333" stroke-width="0.1" text-anchor="end">0</text>
<line x1="273.40" y1="439.63" x2="276.80" y2="439.63" stroke="#2b2530" stroke-width="0.9"/>
<text x="269.90" y="441.93" font-size="6.3" fill="#333" stroke="#333" stroke-width="0.1" text-anchor="end">20</text>
<line x1="273.40" y1="418.07" x2="276.80" y2="418.07" stroke="#2b2530" stroke-width="0.9"/>
<text x="269.90" y="420.37" font-size="6.3" fill="#333" stroke="#333" stroke-width="0.1" text-anchor="end">40</text>
<line x1="273.40" y1="396.50" x2="276.80" y2="396.50" stroke="#2b2530" stroke-width="0.9"/>
<text x="269.90" y="398.80" font-size="6.3" fill="#333" stroke="#333" stroke-width="0.1" text-anchor="end">60</text>
<line x1="282.80" y1="461.20" x2="282.80" y2="464.20" stroke="#2b2530" stroke-width="0.8"/>
<line x1="294.80" y1="461.20" x2="294.80" y2="464.20" stroke="#2b2530" stroke-width="0.8"/>
<line x1="306.80" y1="461.20" x2="306.80" y2="464.20" stroke="#2b2530" stroke-width="0.8"/>
<line x1="318.80" y1="461.20" x2="318.80" y2="464.20" stroke="#2b2530" stroke-width="0.8"/>
<polyline points="306.80,427.60 306.80,394.00 318.80,394.00 318.80,414.50" fill="none" stroke="#7c7c7c" stroke-width="0.95"/>
<text x="312.80" y="393.40" font-size="6.8" fill="#333" stroke="#333" stroke-width="0.1" text-anchor="middle">*</text>
<line x1="281.05" y1="471.45" x2="284.55" y2="471.45" stroke="#3c3c3c" stroke-width="0.8"/>
<line x1="282.80" y1="469.65" x2="282.80" y2="473.25" stroke="#3c3c3c" stroke-width="0.8"/>
<line x1="290.95" y1="471.45" x2="294.45" y2="471.45" stroke="#3c3c3c" stroke-width="0.8"/>
<line x1="292.70" y1="469.65" x2="292.70" y2="473.25" stroke="#3c3c3c" stroke-width="0.8"/>
<line x1="295.15" y1="471.45" x2="298.65" y2="471.45" stroke="#3c3c3c" stroke-width="0.8"/>
<line x1="296.90" y1="469.65" x2="296.90" y2="473.25" stroke="#3c3c3c" stroke-width="0.8"/>
<line x1="305.05" y1="471.45" x2="308.55" y2="471.45" stroke="#3c3c3c" stroke-width="0.8"/>
<line x1="306.80" y1="469.65" x2="306.80" y2="473.25" stroke="#3c3c3c" stroke-width="0.8"/>
<line x1="314.95" y1="471.45" x2="318.45" y2="471.45" stroke="#3c3c3c" stroke-width="0.8"/>
<line x1="316.70" y1="469.65" x2="316.70" y2="473.25" stroke="#3c3c3c" stroke-width="0.8"/>
<line x1="319.15" y1="471.45" x2="322.65" y2="471.45" stroke="#3c3c3c" stroke-width="0.8"/>
<line x1="320.90" y1="469.65" x2="320.90" y2="473.25" stroke="#3c3c3c" stroke-width="0.8"/>
<text x="270.50" y="473.70" font-size="7.0" fill="#333" stroke="#333" stroke-width="0.1" text-anchor="end">Vit E</text>
<rect x="352.30" y="444.00" width="6.20" height="17.20" fill="#e48a7e"/>
<rect x="364.30" y="448.54" width="6.20" height="12.66" fill="#e48a7e"/>
<rect x="376.30" y="425.50" width="6.20" height="35.69" fill="#b8d7f2"/>
<rect x="388.30" y="417.07" width="6.20" height="44.13" fill="#b8d7f2"/>
<line x1="355.40" y1="437.19" x2="355.40" y2="445.62" stroke="#5a2020" stroke-width="0.7"/>
<line x1="354.10" y1="437.19" x2="356.70" y2="437.19" stroke="#5a2020" stroke-width="0.7"/>
<line x1="354.10" y1="445.62" x2="356.70" y2="445.62" stroke="#5a2020" stroke-width="0.7"/>
<line x1="367.40" y1="443.03" x2="367.40" y2="449.52" stroke="#5a2020" stroke-width="0.7"/>
<line x1="366.10" y1="443.03" x2="368.70" y2="443.03" stroke="#5a2020" stroke-width="0.7"/>
<line x1="366.10" y1="449.52" x2="368.70" y2="449.52" stroke="#5a2020" stroke-width="0.7"/>
<line x1="379.40" y1="415.12" x2="379.40" y2="432.64" stroke="#2a4a62" stroke-width="0.7"/>
<line x1="378.10" y1="415.12" x2="380.70" y2="415.12" stroke="#2a4a62" stroke-width="0.7"/>
<line x1="378.10" y1="432.64" x2="380.70" y2="432.64" stroke="#2a4a62" stroke-width="0.7"/>
<line x1="391.40" y1="406.68" x2="391.40" y2="424.21" stroke="#2a4a62" stroke-width="0.7"/>
<line x1="390.10" y1="406.68" x2="392.70" y2="406.68" stroke="#2a4a62" stroke-width="0.7"/>
<line x1="390.10" y1="424.21" x2="392.70" y2="424.21" stroke="#2a4a62" stroke-width="0.7"/>
<circle cx="355.40" cy="437.19" r="1.35" fill="#7a1518" stroke="#2a0506" stroke-width="0.55"/>
<circle cx="354.60" cy="444.00" r="1.35" fill="#7a1518" stroke="#2a0506" stroke-width="0.55"/>
<circle cx="356.30" cy="444.98" r="1.35" fill="#7a1518" stroke="#2a0506" stroke-width="0.55"/>
<circle cx="367.40" cy="443.03" r="1.35" fill="#7a1518" stroke="#2a0506" stroke-width="0.55"/>
<circle cx="366.60" cy="448.22" r="1.35" fill="#7a1518" stroke="#2a0506" stroke-width="0.55"/>
<circle cx="368.20" cy="448.87" r="1.35" fill="#7a1518" stroke="#2a0506" stroke-width="0.55"/>
<circle cx="379.40" cy="415.12" r="1.3" fill="#6fa6d2" stroke="#17344b" stroke-width="0.75"/>
<circle cx="379.40" cy="426.80" r="1.3" fill="#6fa6d2" stroke="#17344b" stroke-width="0.75"/>
<circle cx="379.40" cy="432.00" r="1.3" fill="#6fa6d2" stroke="#17344b" stroke-width="0.75"/>
<circle cx="391.40" cy="406.68" r="1.3" fill="#6fa6d2" stroke="#17344b" stroke-width="0.75"/>
<circle cx="391.40" cy="419.34" r="1.3" fill="#6fa6d2" stroke="#17344b" stroke-width="0.75"/>
<circle cx="391.40" cy="423.56" r="1.3" fill="#6fa6d2" stroke="#17344b" stroke-width="0.75"/>
<line x1="349.40" y1="461.80" x2="349.40" y2="393.70" stroke="#2b2530" stroke-width="1.3"/>
<line x1="348.80" y1="461.20" x2="397.40" y2="461.20" stroke="#2b2530" stroke-width="1.3"/>
<line x1="346.00" y1="461.20" x2="349.40" y2="461.20" stroke="#2b2530" stroke-width="0.9"/>
<text x="342.50" y="463.50" font-size="6.3" fill="#333" stroke="#333" stroke-width="0.1" text-anchor="end">0</text>
<line x1="346.00" y1="448.22" x2="349.40" y2="448.22" stroke="#2b2530" stroke-width="0.9"/>
<text x="342.50" y="450.52" font-size="6.3" fill="#333" stroke="#333" stroke-width="0.1" text-anchor="end">2</text>
<line x1="346.00" y1="435.24" x2="349.40" y2="435.24" stroke="#2b2530" stroke-width="0.9"/>
<text x="342.50" y="437.54" font-size="6.3" fill="#333" stroke="#333" stroke-width="0.1" text-anchor="end">4</text>
<line x1="346.00" y1="422.26" x2="349.40" y2="422.26" stroke="#2b2530" stroke-width="0.9"/>
<text x="342.50" y="424.56" font-size="6.3" fill="#333" stroke="#333" stroke-width="0.1" text-anchor="end">6</text>
<line x1="346.00" y1="409.28" x2="349.40" y2="409.28" stroke="#2b2530" stroke-width="0.9"/>
<text x="342.50" y="411.58" font-size="6.3" fill="#333" stroke="#333" stroke-width="0.1" text-anchor="end">8</text>
<line x1="346.00" y1="396.30" x2="349.40" y2="396.30" stroke="#2b2530" stroke-width="0.9"/>
<text x="342.50" y="398.60" font-size="6.3" fill="#333" stroke="#333" stroke-width="0.1" text-anchor="end">10</text>
<line x1="355.40" y1="461.20" x2="355.40" y2="464.20" stroke="#2b2530" stroke-width="0.8"/>
<line x1="367.40" y1="461.20" x2="367.40" y2="464.20" stroke="#2b2530" stroke-width="0.8"/>
<line x1="379.40" y1="461.20" x2="379.40" y2="464.20" stroke="#2b2530" stroke-width="0.8"/>
<line x1="391.40" y1="461.20" x2="391.40" y2="464.20" stroke="#2b2530" stroke-width="0.8"/>
<polyline points="379.40,409.90 379.40,396.50 391.40,396.50 391.40,401.40" fill="none" stroke="#7c7c7c" stroke-width="0.95"/>
<text x="385.40" y="393.90" font-size="6.4" fill="#333" stroke="#333" stroke-width="0.1" text-anchor="middle">ns</text>
<line x1="353.65" y1="471.45" x2="357.15" y2="471.45" stroke="#3c3c3c" stroke-width="0.8"/>
<line x1="355.40" y1="469.65" x2="355.40" y2="473.25" stroke="#3c3c3c" stroke-width="0.8"/>
<line x1="363.55" y1="471.45" x2="367.05" y2="471.45" stroke="#3c3c3c" stroke-width="0.8"/>
<line x1="365.30" y1="469.65" x2="365.30" y2="473.25" stroke="#3c3c3c" stroke-width="0.8"/>
<line x1="367.75" y1="471.45" x2="371.25" y2="471.45" stroke="#3c3c3c" stroke-width="0.8"/>
<line x1="369.50" y1="469.65" x2="369.50" y2="473.25" stroke="#3c3c3c" stroke-width="0.8"/>
<line x1="377.65" y1="471.45" x2="381.15" y2="471.45" stroke="#3c3c3c" stroke-width="0.8"/>
<line x1="379.40" y1="469.65" x2="379.40" y2="473.25" stroke="#3c3c3c" stroke-width="0.8"/>
<line x1="387.55" y1="471.45" x2="391.05" y2="471.45" stroke="#3c3c3c" stroke-width="0.8"/>
<line x1="389.30" y1="469.65" x2="389.30" y2="473.25" stroke="#3c3c3c" stroke-width="0.8"/>
<line x1="391.75" y1="471.45" x2="395.25" y2="471.45" stroke="#3c3c3c" stroke-width="0.8"/>
<line x1="393.50" y1="469.65" x2="393.50" y2="473.25" stroke="#3c3c3c" stroke-width="0.8"/>
<rect x="424.80" y="432.38" width="6.20" height="28.82" fill="#e48a7e"/>
<rect x="436.80" y="423.82" width="6.20" height="37.38" fill="#e48a7e"/>
<rect x="448.80" y="436.28" width="6.20" height="24.92" fill="#b8d7f2"/>
<rect x="460.80" y="432.00" width="6.20" height="29.20" fill="#b8d7f2"/>
<line x1="427.90" y1="423.56" x2="427.90" y2="440.43" stroke="#5a2020" stroke-width="0.7"/>
<line x1="426.60" y1="423.56" x2="429.20" y2="423.56" stroke="#5a2020" stroke-width="0.7"/>
<line x1="426.60" y1="440.43" x2="429.20" y2="440.43" stroke="#5a2020" stroke-width="0.7"/>
<line x1="439.90" y1="417.07" x2="439.90" y2="431.35" stroke="#5a2020" stroke-width="0.7"/>
<line x1="438.60" y1="417.07" x2="441.20" y2="417.07" stroke="#5a2020" stroke-width="0.7"/>
<line x1="438.60" y1="431.35" x2="441.20" y2="431.35" stroke="#5a2020" stroke-width="0.7"/>
<circle cx="427.90" cy="423.56" r="1.35" fill="#7a1518" stroke="#2a0506" stroke-width="0.55"/>
<circle cx="427.90" cy="432.00" r="1.35" fill="#7a1518" stroke="#2a0506" stroke-width="0.55"/>
<circle cx="427.90" cy="440.43" r="1.35" fill="#7a1518" stroke="#2a0506" stroke-width="0.55"/>
<circle cx="439.90" cy="417.07" r="1.35" fill="#7a1518" stroke="#2a0506" stroke-width="0.55"/>
<circle cx="439.90" cy="423.56" r="1.35" fill="#7a1518" stroke="#2a0506" stroke-width="0.55"/>
<circle cx="439.90" cy="431.74" r="1.35" fill="#7a1518" stroke="#2a0506" stroke-width="0.55"/>
<circle cx="451.00" cy="436.54" r="1.3" fill="#6fa6d2" stroke="#17344b" stroke-width="0.75"/>
<circle cx="451.90" cy="435.24" r="1.3" fill="#6fa6d2" stroke="#17344b" stroke-width="0.75"/>
<circle cx="452.80" cy="436.54" r="1.3" fill="#6fa6d2" stroke="#17344b" stroke-width="0.75"/>
<circle cx="463.10" cy="431.35" r="1.3" fill="#6fa6d2" stroke="#17344b" stroke-width="0.75"/>
<circle cx="464.70" cy="432.00" r="1.3" fill="#6fa6d2" stroke="#17344b" stroke-width="0.75"/>
<circle cx="463.90" cy="435.89" r="1.3" fill="#6fa6d2" stroke="#17344b" stroke-width="0.75"/>
<line x1="421.90" y1="461.80" x2="421.90" y2="393.70" stroke="#2b2530" stroke-width="1.3"/>
<line x1="421.30" y1="461.20" x2="469.90" y2="461.20" stroke="#2b2530" stroke-width="1.3"/>
<line x1="418.50" y1="461.20" x2="421.90" y2="461.20" stroke="#2b2530" stroke-width="0.9"/>
<text x="415.00" y="463.50" font-size="6.3" fill="#333" stroke="#333" stroke-width="0.1" text-anchor="end">0</text>
<line x1="418.50" y1="448.22" x2="421.90" y2="448.22" stroke="#2b2530" stroke-width="0.9"/>
<text x="415.00" y="450.52" font-size="6.3" fill="#333" stroke="#333" stroke-width="0.1" text-anchor="end">1</text>
<line x1="418.50" y1="435.24" x2="421.90" y2="435.24" stroke="#2b2530" stroke-width="0.9"/>
<text x="415.00" y="437.54" font-size="6.3" fill="#333" stroke="#333" stroke-width="0.1" text-anchor="end">2</text>
<line x1="418.50" y1="422.26" x2="421.90" y2="422.26" stroke="#2b2530" stroke-width="0.9"/>
<text x="415.00" y="424.56" font-size="6.3" fill="#333" stroke="#333" stroke-width="0.1" text-anchor="end">3</text>
<line x1="418.50" y1="409.28" x2="421.90" y2="409.28" stroke="#2b2530" stroke-width="0.9"/>
<text x="415.00" y="411.58" font-size="6.3" fill="#333" stroke="#333" stroke-width="0.1" text-anchor="end">4</text>
<line x1="418.50" y1="396.30" x2="421.90" y2="396.30" stroke="#2b2530" stroke-width="0.9"/>
<text x="415.00" y="398.60" font-size="6.3" fill="#333" stroke="#333" stroke-width="0.1" text-anchor="end">5</text>
<line x1="427.90" y1="461.20" x2="427.90" y2="464.20" stroke="#2b2530" stroke-width="0.8"/>
<line x1="439.90" y1="461.20" x2="439.90" y2="464.20" stroke="#2b2530" stroke-width="0.8"/>
<line x1="451.90" y1="461.20" x2="451.90" y2="464.20" stroke="#2b2530" stroke-width="0.8"/>
<line x1="463.90" y1="461.20" x2="463.90" y2="464.20" stroke="#2b2530" stroke-width="0.8"/>
<polyline points="451.90,428.40 451.90,406.00 463.90,406.00 463.90,424.50" fill="none" stroke="#7c7c7c" stroke-width="0.95"/>
<text x="457.90" y="403.40" font-size="6.4" fill="#333" stroke="#333" stroke-width="0.1" text-anchor="middle">ns</text>
<line x1="426.15" y1="471.45" x2="429.65" y2="471.45" stroke="#3c3c3c" stroke-width="0.8"/>
<line x1="427.90" y1="469.65" x2="427.90" y2="473.25" stroke="#3c3c3c" stroke-width="0.8"/>
<line x1="436.05" y1="471.45" x2="439.55" y2="471.45" stroke="#3c3c3c" stroke-width="0.8"/>
<line x1="437.80" y1="469.65" x2="437.80" y2="473.25" stroke="#3c3c3c" stroke-width="0.8"/>
<line x1="440.25" y1="471.45" x2="443.75" y2="471.45" stroke="#3c3c3c" stroke-width="0.8"/>
<line x1="442.00" y1="469.65" x2="442.00" y2="473.25" stroke="#3c3c3c" stroke-width="0.8"/>
<line x1="450.15" y1="471.45" x2="453.65" y2="471.45" stroke="#3c3c3c" stroke-width="0.8"/>
<line x1="451.90" y1="469.65" x2="451.90" y2="473.25" stroke="#3c3c3c" stroke-width="0.8"/>
<line x1="460.05" y1="471.45" x2="463.55" y2="471.45" stroke="#3c3c3c" stroke-width="0.8"/>
<line x1="461.80" y1="469.65" x2="461.80" y2="473.25" stroke="#3c3c3c" stroke-width="0.8"/>
<line x1="464.25" y1="471.45" x2="467.75" y2="471.45" stroke="#3c3c3c" stroke-width="0.8"/>
<line x1="466.00" y1="469.65" x2="466.00" y2="473.25" stroke="#3c3c3c" stroke-width="0.8"/>
<rect x="476.40" y="392.80" width="8.40" height="4.40" fill="#bd1430"/>
<rect x="476.40" y="400.60" width="8.40" height="4.40" fill="#3fa2d6"/>
<text x="488.10" y="397.10" font-size="7.0" fill="#2a2a2a" stroke="#2a2a2a" stroke-width="0.1" textLength="23.00" lengthAdjust="spacingAndGlyphs">Control</text>
<text x="488.10" y="404.90" font-size="7.0" fill="#2a2a2a" stroke="#2a2a2a" stroke-width="0.1" textLength="24.8" lengthAdjust="spacingAndGlyphs"><tspan font-style="italic">Trsp</tspan> KO</text>
<rect x="0" y="0" width="520" height="1" fill="#4e4e4e"/>
<rect x="0" y="0" width="1.1" height="519" fill="#4e4e4e"/>
<rect x="518.6" y="0" width="1.4" height="519" fill="#383838"/>
<rect x="0" y="517.7" width="520" height="1.3" fill="#383838"/></svg>
</body></html>
